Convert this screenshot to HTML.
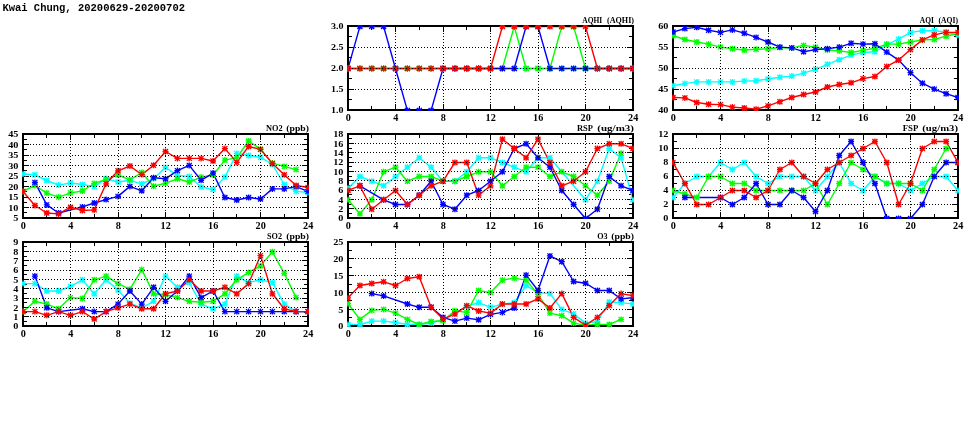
<!DOCTYPE html><html><head><meta charset="utf-8"><title>Kwai Chung</title><style>
html,body{margin:0;padding:0;background:#fff;width:975px;height:447px;overflow:hidden}
svg{display:block;will-change:transform}
.t1{font-family:"Liberation Mono",monospace;font-weight:bold;font-size:10.4px;fill:#000}
.yl{font-family:"Liberation Serif",serif;font-weight:bold;font-size:9.2px;text-anchor:end;fill:#000}
.xl{font-family:"Liberation Serif",serif;font-weight:bold;font-size:9.4px;text-anchor:middle;fill:#000}
.pt{font-family:"Liberation Serif",serif;font-weight:bold;font-size:9.2px;text-anchor:start;fill:#000}
.gd{stroke:#000;stroke-width:1;stroke-dasharray:1 2;fill:none}
.tk{stroke:#000;stroke-width:1;fill:none}
.fr{stroke:#000;stroke-width:2;fill:none}
.ln{stroke-width:1.4;fill:none;stroke-linejoin:round}
.mk{stroke-width:1.3;fill:none}
</style></head><body><svg width="975" height="447" viewBox="0 0 975 447">
<rect width="975" height="447" fill="#fff"/>
<text x="2.4" y="10.8" class="t1" transform="translate(0 10.8) scale(1 1.0) translate(0 -10.8)" textLength="182.6" lengthAdjust="spacingAndGlyphs">Kwai Chung, 20200629-20200702</text>
<path d="M348 110.5h6M633 110.5h-6M348 89.5h6M633 89.5h-6M348 68.5h6M633 68.5h-6M348 47.5h6M633 47.5h-6M348 26.5h6M633 26.5h-6M348 99.5h4M633 99.5h-4M348 78.5h4M633 78.5h-4M348 57.5h4M633 57.5h-4M348 36.5h4M633 36.5h-4M348.5 110v-6M348.5 26v6M371.5 110v-4M371.5 26v4M395.5 110v-6M395.5 26v6M419.5 110v-4M419.5 26v4M443.5 110v-6M443.5 26v6M466.5 110v-4M466.5 26v4M490.5 110v-6M490.5 26v6M514.5 110v-4M514.5 26v4M538.5 110v-6M538.5 26v6M561.5 110v-4M561.5 26v4M585.5 110v-6M585.5 26v6M609.5 110v-4M609.5 26v4M633.5 110v-6M633.5 26v6" class="tk"/>
<clipPath id="lAQHI"><rect x="349" y="27" width="283" height="82"/></clipPath>
<g clip-path="url(#lAQHI)"><polyline points="348.0,68.5 359.9,68.5 371.8,68.5 383.6,68.5 395.5,68.5 407.4,68.5 419.2,68.5 431.1,68.5 443.0,68.5 454.9,68.5 466.8,68.5 478.6,68.5 490.5,68.5 502.4,68.5 514.2,68.5 526.1,68.5 538.0,68.5 549.9,68.5 561.8,68.5 573.6,68.5 585.5,68.5 597.4,68.5 609.2,68.5 621.1,68.5 633.0,68.5" class="ln" stroke="#00ffff"/><polyline points="348.0,68.5 359.9,68.5 371.8,68.5 383.6,68.5 395.5,68.5 407.4,68.5 419.2,68.5 431.1,68.5 443.0,68.5 454.9,68.5 466.8,68.5 478.6,68.5 490.5,68.5 502.4,68.5 514.2,26.5 526.1,68.5 538.0,68.5 549.9,68.5 561.8,26.5 573.6,26.5 585.5,68.5 597.4,68.5 609.2,68.5 621.1,68.5 633.0,68.5" class="ln" stroke="#00ff00"/><polyline points="348.0,68.5 359.9,26.5 371.8,26.5 383.6,26.5 395.5,68.5 407.4,110.5 419.2,110.5 431.1,110.5 443.0,68.5 454.9,68.5 466.8,68.5 478.6,68.5 490.5,68.5 502.4,68.5 514.2,68.5 526.1,26.5 538.0,26.5 549.9,68.5 561.8,68.5 573.6,68.5 585.5,68.5 597.4,68.5 609.2,68.5 621.1,68.5 633.0,68.5" class="ln" stroke="#0000ff"/><polyline points="348.0,68.5 359.9,68.5 371.8,68.5 383.6,68.5 395.5,68.5 407.4,68.5 419.2,68.5 431.1,68.5 443.0,68.5 454.9,68.5 466.8,68.5 478.6,68.5 490.5,68.5 502.4,26.5 514.2,26.5 526.1,26.5 538.0,26.5 549.9,26.5 561.8,26.5 573.6,26.5 585.5,26.5 597.4,68.5 609.2,68.5 621.1,68.5 633.0,68.5" class="ln" stroke="#ff0000"/></g>
<rect x="348" y="26" width="285" height="84" class="fr"/>
<clipPath id="cAQHI"><rect x="347" y="25" width="287" height="86"/></clipPath>
<g clip-path="url(#cAQHI)"><path d="M345.5 66.0l5 5m0 -5l-5 5M348.0 65.5v6M345.0 68.5h6M357.4 66.0l5 5m0 -5l-5 5M359.9 65.5v6M356.9 68.5h6M369.2 66.0l5 5m0 -5l-5 5M371.8 65.5v6M368.8 68.5h6M381.1 66.0l5 5m0 -5l-5 5M383.6 65.5v6M380.6 68.5h6M393.0 66.0l5 5m0 -5l-5 5M395.5 65.5v6M392.5 68.5h6M404.9 66.0l5 5m0 -5l-5 5M407.4 65.5v6M404.4 68.5h6M416.8 66.0l5 5m0 -5l-5 5M419.2 65.5v6M416.2 68.5h6M428.6 66.0l5 5m0 -5l-5 5M431.1 65.5v6M428.1 68.5h6M440.5 66.0l5 5m0 -5l-5 5M443.0 65.5v6M440.0 68.5h6M452.4 66.0l5 5m0 -5l-5 5M454.9 65.5v6M451.9 68.5h6M464.2 66.0l5 5m0 -5l-5 5M466.8 65.5v6M463.8 68.5h6M476.1 66.0l5 5m0 -5l-5 5M478.6 65.5v6M475.6 68.5h6M488.0 66.0l5 5m0 -5l-5 5M490.5 65.5v6M487.5 68.5h6M499.9 66.0l5 5m0 -5l-5 5M502.4 65.5v6M499.4 68.5h6M511.8 66.0l5 5m0 -5l-5 5M514.2 65.5v6M511.2 68.5h6M523.6 66.0l5 5m0 -5l-5 5M526.1 65.5v6M523.1 68.5h6M535.5 66.0l5 5m0 -5l-5 5M538.0 65.5v6M535.0 68.5h6M547.4 66.0l5 5m0 -5l-5 5M549.9 65.5v6M546.9 68.5h6M559.2 66.0l5 5m0 -5l-5 5M561.8 65.5v6M558.8 68.5h6M571.1 66.0l5 5m0 -5l-5 5M573.6 65.5v6M570.6 68.5h6M583.0 66.0l5 5m0 -5l-5 5M585.5 65.5v6M582.5 68.5h6M594.9 66.0l5 5m0 -5l-5 5M597.4 65.5v6M594.4 68.5h6M606.8 66.0l5 5m0 -5l-5 5M609.2 65.5v6M606.2 68.5h6M618.6 66.0l5 5m0 -5l-5 5M621.1 65.5v6M618.1 68.5h6M630.5 66.0l5 5m0 -5l-5 5M633.0 65.5v6M630.0 68.5h6" class="mk" stroke="#00ffff"/><path d="M345.5 66.0l5 5m0 -5l-5 5M348.0 65.5v6M345.0 68.5h6M357.4 66.0l5 5m0 -5l-5 5M359.9 65.5v6M356.9 68.5h6M369.2 66.0l5 5m0 -5l-5 5M371.8 65.5v6M368.8 68.5h6M381.1 66.0l5 5m0 -5l-5 5M383.6 65.5v6M380.6 68.5h6M393.0 66.0l5 5m0 -5l-5 5M395.5 65.5v6M392.5 68.5h6M404.9 66.0l5 5m0 -5l-5 5M407.4 65.5v6M404.4 68.5h6M416.8 66.0l5 5m0 -5l-5 5M419.2 65.5v6M416.2 68.5h6M428.6 66.0l5 5m0 -5l-5 5M431.1 65.5v6M428.1 68.5h6M440.5 66.0l5 5m0 -5l-5 5M443.0 65.5v6M440.0 68.5h6M452.4 66.0l5 5m0 -5l-5 5M454.9 65.5v6M451.9 68.5h6M464.2 66.0l5 5m0 -5l-5 5M466.8 65.5v6M463.8 68.5h6M476.1 66.0l5 5m0 -5l-5 5M478.6 65.5v6M475.6 68.5h6M488.0 66.0l5 5m0 -5l-5 5M490.5 65.5v6M487.5 68.5h6M499.9 66.0l5 5m0 -5l-5 5M502.4 65.5v6M499.4 68.5h6M511.8 24.0l5 5m0 -5l-5 5M514.2 23.5v6M511.2 26.5h6M523.6 66.0l5 5m0 -5l-5 5M526.1 65.5v6M523.1 68.5h6M535.5 66.0l5 5m0 -5l-5 5M538.0 65.5v6M535.0 68.5h6M547.4 66.0l5 5m0 -5l-5 5M549.9 65.5v6M546.9 68.5h6M559.2 24.0l5 5m0 -5l-5 5M561.8 23.5v6M558.8 26.5h6M571.1 24.0l5 5m0 -5l-5 5M573.6 23.5v6M570.6 26.5h6M583.0 66.0l5 5m0 -5l-5 5M585.5 65.5v6M582.5 68.5h6M594.9 66.0l5 5m0 -5l-5 5M597.4 65.5v6M594.4 68.5h6M606.8 66.0l5 5m0 -5l-5 5M609.2 65.5v6M606.2 68.5h6M618.6 66.0l5 5m0 -5l-5 5M621.1 65.5v6M618.1 68.5h6M630.5 66.0l5 5m0 -5l-5 5M633.0 65.5v6M630.0 68.5h6" class="mk" stroke="#00ff00"/><path d="M345.5 66.0l5 5m0 -5l-5 5M348.0 65.5v6M345.0 68.5h6M357.4 24.0l5 5m0 -5l-5 5M359.9 23.5v6M356.9 26.5h6M369.2 24.0l5 5m0 -5l-5 5M371.8 23.5v6M368.8 26.5h6M381.1 24.0l5 5m0 -5l-5 5M383.6 23.5v6M380.6 26.5h6M393.0 66.0l5 5m0 -5l-5 5M395.5 65.5v6M392.5 68.5h6M404.9 108.0l5 5m0 -5l-5 5M407.4 107.5v6M404.4 110.5h6M416.8 108.0l5 5m0 -5l-5 5M419.2 107.5v6M416.2 110.5h6M428.6 108.0l5 5m0 -5l-5 5M431.1 107.5v6M428.1 110.5h6M440.5 66.0l5 5m0 -5l-5 5M443.0 65.5v6M440.0 68.5h6M452.4 66.0l5 5m0 -5l-5 5M454.9 65.5v6M451.9 68.5h6M464.2 66.0l5 5m0 -5l-5 5M466.8 65.5v6M463.8 68.5h6M476.1 66.0l5 5m0 -5l-5 5M478.6 65.5v6M475.6 68.5h6M488.0 66.0l5 5m0 -5l-5 5M490.5 65.5v6M487.5 68.5h6M499.9 66.0l5 5m0 -5l-5 5M502.4 65.5v6M499.4 68.5h6M511.8 66.0l5 5m0 -5l-5 5M514.2 65.5v6M511.2 68.5h6M523.6 24.0l5 5m0 -5l-5 5M526.1 23.5v6M523.1 26.5h6M535.5 24.0l5 5m0 -5l-5 5M538.0 23.5v6M535.0 26.5h6M547.4 66.0l5 5m0 -5l-5 5M549.9 65.5v6M546.9 68.5h6M559.2 66.0l5 5m0 -5l-5 5M561.8 65.5v6M558.8 68.5h6M571.1 66.0l5 5m0 -5l-5 5M573.6 65.5v6M570.6 68.5h6M583.0 66.0l5 5m0 -5l-5 5M585.5 65.5v6M582.5 68.5h6M594.9 66.0l5 5m0 -5l-5 5M597.4 65.5v6M594.4 68.5h6M606.8 66.0l5 5m0 -5l-5 5M609.2 65.5v6M606.2 68.5h6M618.6 66.0l5 5m0 -5l-5 5M621.1 65.5v6M618.1 68.5h6M630.5 66.0l5 5m0 -5l-5 5M633.0 65.5v6M630.0 68.5h6" class="mk" stroke="#0000ff"/><path d="M345.5 66.0l5 5m0 -5l-5 5M348.0 65.5v6M345.0 68.5h6M357.4 66.0l5 5m0 -5l-5 5M359.9 65.5v6M356.9 68.5h6M369.2 66.0l5 5m0 -5l-5 5M371.8 65.5v6M368.8 68.5h6M381.1 66.0l5 5m0 -5l-5 5M383.6 65.5v6M380.6 68.5h6M393.0 66.0l5 5m0 -5l-5 5M395.5 65.5v6M392.5 68.5h6M404.9 66.0l5 5m0 -5l-5 5M407.4 65.5v6M404.4 68.5h6M416.8 66.0l5 5m0 -5l-5 5M419.2 65.5v6M416.2 68.5h6M428.6 66.0l5 5m0 -5l-5 5M431.1 65.5v6M428.1 68.5h6M440.5 66.0l5 5m0 -5l-5 5M443.0 65.5v6M440.0 68.5h6M452.4 66.0l5 5m0 -5l-5 5M454.9 65.5v6M451.9 68.5h6M464.2 66.0l5 5m0 -5l-5 5M466.8 65.5v6M463.8 68.5h6M476.1 66.0l5 5m0 -5l-5 5M478.6 65.5v6M475.6 68.5h6M488.0 66.0l5 5m0 -5l-5 5M490.5 65.5v6M487.5 68.5h6M499.9 24.0l5 5m0 -5l-5 5M502.4 23.5v6M499.4 26.5h6M511.8 24.0l5 5m0 -5l-5 5M514.2 23.5v6M511.2 26.5h6M523.6 24.0l5 5m0 -5l-5 5M526.1 23.5v6M523.1 26.5h6M535.5 24.0l5 5m0 -5l-5 5M538.0 23.5v6M535.0 26.5h6M547.4 24.0l5 5m0 -5l-5 5M549.9 23.5v6M546.9 26.5h6M559.2 24.0l5 5m0 -5l-5 5M561.8 23.5v6M558.8 26.5h6M571.1 24.0l5 5m0 -5l-5 5M573.6 23.5v6M570.6 26.5h6M583.0 24.0l5 5m0 -5l-5 5M585.5 23.5v6M582.5 26.5h6M594.9 66.0l5 5m0 -5l-5 5M597.4 65.5v6M594.4 68.5h6M606.8 66.0l5 5m0 -5l-5 5M609.2 65.5v6M606.2 68.5h6M618.6 66.0l5 5m0 -5l-5 5M621.1 65.5v6M618.1 68.5h6M630.5 66.0l5 5m0 -5l-5 5M633.0 65.5v6M630.0 68.5h6" class="mk" stroke="#ff0000"/></g>
<g><line x1="349" y1="89.5" x2="632" y2="89.5" class="gd"/><line x1="349" y1="68.5" x2="632" y2="68.5" class="gd"/><line x1="349" y1="47.5" x2="632" y2="47.5" class="gd"/><line x1="395.5" y1="27" x2="395.5" y2="109" class="gd"/><line x1="443.5" y1="27" x2="443.5" y2="109" class="gd"/><line x1="490.5" y1="27" x2="490.5" y2="109" class="gd"/><line x1="538.5" y1="27" x2="538.5" y2="109" class="gd"/><line x1="585.5" y1="27" x2="585.5" y2="109" class="gd"/><text x="343.4" y="113.3" class="yl" textLength="12.5" lengthAdjust="spacingAndGlyphs">1.0</text><text x="343.4" y="92.3" class="yl" textLength="12.5" lengthAdjust="spacingAndGlyphs">1.5</text><text x="343.4" y="71.3" class="yl" textLength="12.5" lengthAdjust="spacingAndGlyphs">2.0</text><text x="343.4" y="50.3" class="yl" textLength="12.5" lengthAdjust="spacingAndGlyphs">2.5</text><text x="343.4" y="29.3" class="yl" textLength="12.5" lengthAdjust="spacingAndGlyphs">3.0</text><text x="348.2" y="121.2" class="xl" textLength="5.1" lengthAdjust="spacingAndGlyphs">0</text><text x="395.7" y="121.2" class="xl" textLength="5.1" lengthAdjust="spacingAndGlyphs">4</text><text x="443.2" y="121.2" class="xl" textLength="5.1" lengthAdjust="spacingAndGlyphs">8</text><text x="490.7" y="121.2" class="xl" textLength="10.2" lengthAdjust="spacingAndGlyphs">12</text><text x="538.2" y="121.2" class="xl" textLength="10.2" lengthAdjust="spacingAndGlyphs">16</text><text x="585.7" y="121.2" class="xl" textLength="10.2" lengthAdjust="spacingAndGlyphs">20</text><text x="633.2" y="121.2" class="xl" textLength="10.2" lengthAdjust="spacingAndGlyphs">24</text><text x="582.3" y="22.7" class="pt" textLength="20.0" lengthAdjust="spacingAndGlyphs">AQHI</text><text x="607.0" y="22.7" class="pt" textLength="27.0" lengthAdjust="spacingAndGlyphs">(AQHI)</text></g>
<path d="M673 110.5h6M958 110.5h-6M673 89.5h6M958 89.5h-6M673 68.5h6M958 68.5h-6M673 47.5h6M958 47.5h-6M673 26.5h6M958 26.5h-6M673 99.5h4M958 99.5h-4M673 78.5h4M958 78.5h-4M673 57.5h4M958 57.5h-4M673 36.5h4M958 36.5h-4M673.5 110v-6M673.5 26v6M696.5 110v-4M696.5 26v4M720.5 110v-6M720.5 26v6M744.5 110v-4M744.5 26v4M768.5 110v-6M768.5 26v6M791.5 110v-4M791.5 26v4M815.5 110v-6M815.5 26v6M839.5 110v-4M839.5 26v4M863.5 110v-6M863.5 26v6M886.5 110v-4M886.5 26v4M910.5 110v-6M910.5 26v6M934.5 110v-4M934.5 26v4M958.5 110v-6M958.5 26v6" class="tk"/>
<clipPath id="lAQI"><rect x="674" y="27" width="283" height="82"/></clipPath>
<g clip-path="url(#lAQI)"><polyline points="673.0,85.7 684.9,83.6 696.8,81.9 708.6,81.9 720.5,81.9 732.4,81.9 744.2,81.1 756.1,80.7 768.0,79.0 779.9,77.3 791.8,76.1 803.6,73.1 815.5,69.3 827.4,64.3 839.2,59.7 851.1,55.1 863.0,52.5 874.9,51.7 886.8,44.6 898.6,39.1 910.5,32.4 922.4,30.7 934.2,30.7 946.1,32.0 958.0,35.3" class="ln" stroke="#00ffff"/><polyline points="673.0,35.7 684.9,39.5 696.8,42.0 708.6,44.1 720.5,47.1 732.4,48.8 744.2,50.0 756.1,49.2 768.0,48.8 779.9,47.5 791.8,47.9 803.6,45.4 815.5,47.1 827.4,50.0 839.2,50.9 851.1,52.5 863.0,50.4 874.9,48.3 886.8,44.1 898.6,44.1 910.5,42.0 922.4,39.9 934.2,39.5 946.1,36.2 958.0,33.2" class="ln" stroke="#00ff00"/><polyline points="673.0,32.0 684.9,28.6 696.8,27.3 708.6,30.3 720.5,32.4 732.4,29.9 744.2,33.2 756.1,37.4 768.0,42.0 779.9,47.1 791.8,47.9 803.6,51.7 815.5,49.6 827.4,48.8 839.2,47.1 851.1,43.3 863.0,44.1 874.9,43.7 886.8,52.1 898.6,60.1 910.5,72.7 922.4,83.2 934.2,89.1 946.1,93.7 958.0,97.5" class="ln" stroke="#0000ff"/><polyline points="673.0,97.5 684.9,97.9 696.8,102.5 708.6,104.2 720.5,104.6 732.4,107.1 744.2,108.0 756.1,109.2 768.0,105.9 779.9,101.7 791.8,97.5 803.6,94.5 815.5,92.0 827.4,87.0 839.2,84.5 851.1,82.8 863.0,78.6 874.9,76.5 886.8,66.4 898.6,60.1 910.5,49.6 922.4,39.9 934.2,34.9 946.1,32.4 958.0,32.4" class="ln" stroke="#ff0000"/></g>
<rect x="673" y="26" width="285" height="84" class="fr"/>
<clipPath id="cAQI"><rect x="672" y="25" width="287" height="86"/></clipPath>
<g clip-path="url(#cAQI)"><path d="M670.5 83.2l5 5m0 -5l-5 5M673.0 82.7v6M670.0 85.7h6M682.4 81.1l5 5m0 -5l-5 5M684.9 80.6v6M681.9 83.6h6M694.2 79.4l5 5m0 -5l-5 5M696.8 78.9v6M693.8 81.9h6M706.1 79.4l5 5m0 -5l-5 5M708.6 78.9v6M705.6 81.9h6M718.0 79.4l5 5m0 -5l-5 5M720.5 78.9v6M717.5 81.9h6M729.9 79.4l5 5m0 -5l-5 5M732.4 78.9v6M729.4 81.9h6M741.8 78.6l5 5m0 -5l-5 5M744.2 78.1v6M741.2 81.1h6M753.6 78.2l5 5m0 -5l-5 5M756.1 77.7v6M753.1 80.7h6M765.5 76.5l5 5m0 -5l-5 5M768.0 76.0v6M765.0 79.0h6M777.4 74.8l5 5m0 -5l-5 5M779.9 74.3v6M776.9 77.3h6M789.2 73.6l5 5m0 -5l-5 5M791.8 73.1v6M788.8 76.1h6M801.1 70.6l5 5m0 -5l-5 5M803.6 70.1v6M800.6 73.1h6M813.0 66.8l5 5m0 -5l-5 5M815.5 66.3v6M812.5 69.3h6M824.9 61.8l5 5m0 -5l-5 5M827.4 61.3v6M824.4 64.3h6M836.8 57.2l5 5m0 -5l-5 5M839.2 56.7v6M836.2 59.7h6M848.6 52.6l5 5m0 -5l-5 5M851.1 52.1v6M848.1 55.1h6M860.5 50.0l5 5m0 -5l-5 5M863.0 49.5v6M860.0 52.5h6M872.4 49.2l5 5m0 -5l-5 5M874.9 48.7v6M871.9 51.7h6M884.2 42.1l5 5m0 -5l-5 5M886.8 41.6v6M883.8 44.6h6M896.1 36.6l5 5m0 -5l-5 5M898.6 36.1v6M895.6 39.1h6M908.0 29.9l5 5m0 -5l-5 5M910.5 29.4v6M907.5 32.4h6M919.9 28.2l5 5m0 -5l-5 5M922.4 27.7v6M919.4 30.7h6M931.8 28.2l5 5m0 -5l-5 5M934.2 27.7v6M931.2 30.7h6M943.6 29.5l5 5m0 -5l-5 5M946.1 29.0v6M943.1 32.0h6M955.5 32.8l5 5m0 -5l-5 5M958.0 32.3v6M955.0 35.3h6" class="mk" stroke="#00ffff"/><path d="M670.5 33.2l5 5m0 -5l-5 5M673.0 32.7v6M670.0 35.7h6M682.4 37.0l5 5m0 -5l-5 5M684.9 36.5v6M681.9 39.5h6M694.2 39.5l5 5m0 -5l-5 5M696.8 39.0v6M693.8 42.0h6M706.1 41.6l5 5m0 -5l-5 5M708.6 41.1v6M705.6 44.1h6M718.0 44.6l5 5m0 -5l-5 5M720.5 44.1v6M717.5 47.1h6M729.9 46.3l5 5m0 -5l-5 5M732.4 45.8v6M729.4 48.8h6M741.8 47.5l5 5m0 -5l-5 5M744.2 47.0v6M741.2 50.0h6M753.6 46.7l5 5m0 -5l-5 5M756.1 46.2v6M753.1 49.2h6M765.5 46.3l5 5m0 -5l-5 5M768.0 45.8v6M765.0 48.8h6M777.4 45.0l5 5m0 -5l-5 5M779.9 44.5v6M776.9 47.5h6M789.2 45.4l5 5m0 -5l-5 5M791.8 44.9v6M788.8 47.9h6M801.1 42.9l5 5m0 -5l-5 5M803.6 42.4v6M800.6 45.4h6M813.0 44.6l5 5m0 -5l-5 5M815.5 44.1v6M812.5 47.1h6M824.9 47.5l5 5m0 -5l-5 5M827.4 47.0v6M824.4 50.0h6M836.8 48.4l5 5m0 -5l-5 5M839.2 47.9v6M836.2 50.9h6M848.6 50.0l5 5m0 -5l-5 5M851.1 49.5v6M848.1 52.5h6M860.5 47.9l5 5m0 -5l-5 5M863.0 47.4v6M860.0 50.4h6M872.4 45.8l5 5m0 -5l-5 5M874.9 45.3v6M871.9 48.3h6M884.2 41.6l5 5m0 -5l-5 5M886.8 41.1v6M883.8 44.1h6M896.1 41.6l5 5m0 -5l-5 5M898.6 41.1v6M895.6 44.1h6M908.0 39.5l5 5m0 -5l-5 5M910.5 39.0v6M907.5 42.0h6M919.9 37.4l5 5m0 -5l-5 5M922.4 36.9v6M919.4 39.9h6M931.8 37.0l5 5m0 -5l-5 5M934.2 36.5v6M931.2 39.5h6M943.6 33.7l5 5m0 -5l-5 5M946.1 33.2v6M943.1 36.2h6M955.5 30.7l5 5m0 -5l-5 5M958.0 30.2v6M955.0 33.2h6" class="mk" stroke="#00ff00"/><path d="M670.5 29.5l5 5m0 -5l-5 5M673.0 29.0v6M670.0 32.0h6M682.4 26.1l5 5m0 -5l-5 5M684.9 25.6v6M681.9 28.6h6M694.2 24.8l5 5m0 -5l-5 5M696.8 24.3v6M693.8 27.3h6M706.1 27.8l5 5m0 -5l-5 5M708.6 27.3v6M705.6 30.3h6M718.0 29.9l5 5m0 -5l-5 5M720.5 29.4v6M717.5 32.4h6M729.9 27.4l5 5m0 -5l-5 5M732.4 26.9v6M729.4 29.9h6M741.8 30.7l5 5m0 -5l-5 5M744.2 30.2v6M741.2 33.2h6M753.6 34.9l5 5m0 -5l-5 5M756.1 34.4v6M753.1 37.4h6M765.5 39.5l5 5m0 -5l-5 5M768.0 39.0v6M765.0 42.0h6M777.4 44.6l5 5m0 -5l-5 5M779.9 44.1v6M776.9 47.1h6M789.2 45.4l5 5m0 -5l-5 5M791.8 44.9v6M788.8 47.9h6M801.1 49.2l5 5m0 -5l-5 5M803.6 48.7v6M800.6 51.7h6M813.0 47.1l5 5m0 -5l-5 5M815.5 46.6v6M812.5 49.6h6M824.9 46.3l5 5m0 -5l-5 5M827.4 45.8v6M824.4 48.8h6M836.8 44.6l5 5m0 -5l-5 5M839.2 44.1v6M836.2 47.1h6M848.6 40.8l5 5m0 -5l-5 5M851.1 40.3v6M848.1 43.3h6M860.5 41.6l5 5m0 -5l-5 5M863.0 41.1v6M860.0 44.1h6M872.4 41.2l5 5m0 -5l-5 5M874.9 40.7v6M871.9 43.7h6M884.2 49.6l5 5m0 -5l-5 5M886.8 49.1v6M883.8 52.1h6M896.1 57.6l5 5m0 -5l-5 5M898.6 57.1v6M895.6 60.1h6M908.0 70.2l5 5m0 -5l-5 5M910.5 69.7v6M907.5 72.7h6M919.9 80.7l5 5m0 -5l-5 5M922.4 80.2v6M919.4 83.2h6M931.8 86.6l5 5m0 -5l-5 5M934.2 86.1v6M931.2 89.1h6M943.6 91.2l5 5m0 -5l-5 5M946.1 90.7v6M943.1 93.7h6M955.5 95.0l5 5m0 -5l-5 5M958.0 94.5v6M955.0 97.5h6" class="mk" stroke="#0000ff"/><path d="M670.5 95.0l5 5m0 -5l-5 5M673.0 94.5v6M670.0 97.5h6M682.4 95.4l5 5m0 -5l-5 5M684.9 94.9v6M681.9 97.9h6M694.2 100.0l5 5m0 -5l-5 5M696.8 99.5v6M693.8 102.5h6M706.1 101.7l5 5m0 -5l-5 5M708.6 101.2v6M705.6 104.2h6M718.0 102.1l5 5m0 -5l-5 5M720.5 101.6v6M717.5 104.6h6M729.9 104.6l5 5m0 -5l-5 5M732.4 104.1v6M729.4 107.1h6M741.8 105.5l5 5m0 -5l-5 5M744.2 105.0v6M741.2 108.0h6M753.6 106.7l5 5m0 -5l-5 5M756.1 106.2v6M753.1 109.2h6M765.5 103.4l5 5m0 -5l-5 5M768.0 102.9v6M765.0 105.9h6M777.4 99.2l5 5m0 -5l-5 5M779.9 98.7v6M776.9 101.7h6M789.2 95.0l5 5m0 -5l-5 5M791.8 94.5v6M788.8 97.5h6M801.1 92.0l5 5m0 -5l-5 5M803.6 91.5v6M800.6 94.5h6M813.0 89.5l5 5m0 -5l-5 5M815.5 89.0v6M812.5 92.0h6M824.9 84.5l5 5m0 -5l-5 5M827.4 84.0v6M824.4 87.0h6M836.8 82.0l5 5m0 -5l-5 5M839.2 81.5v6M836.2 84.5h6M848.6 80.3l5 5m0 -5l-5 5M851.1 79.8v6M848.1 82.8h6M860.5 76.1l5 5m0 -5l-5 5M863.0 75.6v6M860.0 78.6h6M872.4 74.0l5 5m0 -5l-5 5M874.9 73.5v6M871.9 76.5h6M884.2 63.9l5 5m0 -5l-5 5M886.8 63.4v6M883.8 66.4h6M896.1 57.6l5 5m0 -5l-5 5M898.6 57.1v6M895.6 60.1h6M908.0 47.1l5 5m0 -5l-5 5M910.5 46.6v6M907.5 49.6h6M919.9 37.4l5 5m0 -5l-5 5M922.4 36.9v6M919.4 39.9h6M931.8 32.4l5 5m0 -5l-5 5M934.2 31.9v6M931.2 34.9h6M943.6 29.9l5 5m0 -5l-5 5M946.1 29.4v6M943.1 32.4h6M955.5 29.9l5 5m0 -5l-5 5M958.0 29.4v6M955.0 32.4h6" class="mk" stroke="#ff0000"/></g>
<g><line x1="674" y1="89.5" x2="957" y2="89.5" class="gd"/><line x1="674" y1="68.5" x2="957" y2="68.5" class="gd"/><line x1="674" y1="47.5" x2="957" y2="47.5" class="gd"/><line x1="720.5" y1="27" x2="720.5" y2="109" class="gd"/><line x1="768.5" y1="27" x2="768.5" y2="109" class="gd"/><line x1="815.5" y1="27" x2="815.5" y2="109" class="gd"/><line x1="863.5" y1="27" x2="863.5" y2="109" class="gd"/><line x1="910.5" y1="27" x2="910.5" y2="109" class="gd"/><text x="668.4" y="113.3" class="yl" textLength="10.2" lengthAdjust="spacingAndGlyphs">40</text><text x="668.4" y="92.3" class="yl" textLength="10.2" lengthAdjust="spacingAndGlyphs">45</text><text x="668.4" y="71.3" class="yl" textLength="10.2" lengthAdjust="spacingAndGlyphs">50</text><text x="668.4" y="50.3" class="yl" textLength="10.2" lengthAdjust="spacingAndGlyphs">55</text><text x="668.4" y="29.3" class="yl" textLength="10.2" lengthAdjust="spacingAndGlyphs">60</text><text x="673.2" y="121.2" class="xl" textLength="5.1" lengthAdjust="spacingAndGlyphs">0</text><text x="720.7" y="121.2" class="xl" textLength="5.1" lengthAdjust="spacingAndGlyphs">4</text><text x="768.2" y="121.2" class="xl" textLength="5.1" lengthAdjust="spacingAndGlyphs">8</text><text x="815.7" y="121.2" class="xl" textLength="10.2" lengthAdjust="spacingAndGlyphs">12</text><text x="863.2" y="121.2" class="xl" textLength="10.2" lengthAdjust="spacingAndGlyphs">16</text><text x="910.7" y="121.2" class="xl" textLength="10.2" lengthAdjust="spacingAndGlyphs">20</text><text x="958.2" y="121.2" class="xl" textLength="10.2" lengthAdjust="spacingAndGlyphs">24</text><text x="919.8" y="22.7" class="pt" textLength="14.1" lengthAdjust="spacingAndGlyphs">AQI</text><text x="938.5" y="22.7" class="pt" textLength="19.6" lengthAdjust="spacingAndGlyphs">(AQI)</text></g>
<path d="M23 218.5h6M308 218.5h-6M23 207.5h6M308 207.5h-6M23 197.5h6M308 197.5h-6M23 186.5h6M308 186.5h-6M23 176.5h6M308 176.5h-6M23 165.5h6M308 165.5h-6M23 155.5h6M308 155.5h-6M23 144.5h6M308 144.5h-6M23 134.5h6M308 134.5h-6M23 212.5h4M308 212.5h-4M23 202.5h4M308 202.5h-4M23 191.5h4M308 191.5h-4M23 181.5h4M308 181.5h-4M23 170.5h4M308 170.5h-4M23 160.5h4M308 160.5h-4M23 149.5h4M308 149.5h-4M23 139.5h4M308 139.5h-4M23.5 218v-6M23.5 134v6M46.5 218v-4M46.5 134v4M70.5 218v-6M70.5 134v6M94.5 218v-4M94.5 134v4M118.5 218v-6M118.5 134v6M141.5 218v-4M141.5 134v4M165.5 218v-6M165.5 134v6M189.5 218v-4M189.5 134v4M213.5 218v-6M213.5 134v6M236.5 218v-4M236.5 134v4M260.5 218v-6M260.5 134v6M284.5 218v-4M284.5 134v4M308.5 218v-6M308.5 134v6" class="tk"/>
<clipPath id="lNO2"><rect x="24" y="135" width="283" height="82"/></clipPath>
<g clip-path="url(#lNO2)"><polyline points="23.0,174.0 34.9,174.8 46.8,180.5 58.6,185.1 70.5,183.0 82.4,184.5 94.2,186.6 106.1,178.6 118.0,182.0 129.9,180.3 141.8,183.8 153.6,178.6 165.5,167.5 177.4,175.4 189.2,176.5 201.1,187.0 213.0,189.5 224.9,177.1 236.8,153.4 248.6,155.5 260.5,157.2 272.4,164.5 284.2,184.5 296.1,191.4 308.0,192.5" class="ln" stroke="#00ffff"/><polyline points="23.0,191.4 34.9,185.5 46.8,193.1 58.6,197.1 70.5,192.9 82.4,191.0 94.2,183.4 106.1,179.4 118.0,175.0 129.9,179.9 141.8,172.5 153.6,186.2 165.5,183.2 177.4,178.8 189.2,182.0 201.1,177.1 213.0,175.0 224.9,160.1 236.8,157.6 248.6,141.0 260.5,149.2 272.4,163.1 284.2,166.4 296.1,169.6" class="ln" stroke="#00ff00"/><polyline points="34.9,182.4 46.8,204.9 58.6,213.0 82.4,206.9 94.2,203.0 106.1,199.6 118.0,196.4 129.9,186.4 141.8,190.8 153.6,177.8 165.5,178.8 177.4,170.6 189.2,165.4 201.1,180.3 213.0,173.1 224.9,197.5 236.8,200.0 248.6,197.5 260.5,199.0 272.4,188.9 284.2,188.9 296.1,186.6 308.0,191.4" class="ln" stroke="#0000ff"/><polyline points="23.0,191.4 34.9,205.5 46.8,213.0 58.6,213.9 70.5,207.2 82.4,210.5 94.2,209.9 106.1,183.8 118.0,170.8 129.9,166.0 141.8,174.6 153.6,165.2 165.5,151.5 177.4,158.4 189.2,158.4 201.1,158.4 213.0,161.0 224.9,148.6 236.8,162.4 248.6,146.5 260.5,149.4 272.4,163.5 284.2,174.8 296.1,185.5 308.0,187.4" class="ln" stroke="#ff0000"/></g>
<rect x="23" y="134" width="285" height="84" class="fr"/>
<clipPath id="cNO2"><rect x="22" y="133" width="287" height="86"/></clipPath>
<g clip-path="url(#cNO2)"><path d="M20.5 171.5l5 5m0 -5l-5 5M23.0 171.0v6M20.0 174.0h6M32.4 172.3l5 5m0 -5l-5 5M34.9 171.8v6M31.9 174.8h6M44.2 178.0l5 5m0 -5l-5 5M46.8 177.5v6M43.8 180.5h6M56.1 182.6l5 5m0 -5l-5 5M58.6 182.1v6M55.6 185.1h6M68.0 180.5l5 5m0 -5l-5 5M70.5 180.0v6M67.5 183.0h6M79.9 182.0l5 5m0 -5l-5 5M82.4 181.5v6M79.4 184.5h6M91.8 184.1l5 5m0 -5l-5 5M94.2 183.6v6M91.2 186.6h6M103.6 176.1l5 5m0 -5l-5 5M106.1 175.6v6M103.1 178.6h6M115.5 179.5l5 5m0 -5l-5 5M118.0 179.0v6M115.0 182.0h6M127.4 177.8l5 5m0 -5l-5 5M129.9 177.3v6M126.9 180.3h6M139.2 181.3l5 5m0 -5l-5 5M141.8 180.8v6M138.8 183.8h6M151.1 176.1l5 5m0 -5l-5 5M153.6 175.6v6M150.6 178.6h6M163.0 165.0l5 5m0 -5l-5 5M165.5 164.5v6M162.5 167.5h6M174.9 172.9l5 5m0 -5l-5 5M177.4 172.4v6M174.4 175.4h6M186.8 174.0l5 5m0 -5l-5 5M189.2 173.5v6M186.2 176.5h6M198.6 184.5l5 5m0 -5l-5 5M201.1 184.0v6M198.1 187.0h6M210.5 187.0l5 5m0 -5l-5 5M213.0 186.5v6M210.0 189.5h6M222.4 174.6l5 5m0 -5l-5 5M224.9 174.1v6M221.9 177.1h6M234.2 150.9l5 5m0 -5l-5 5M236.8 150.4v6M233.8 153.4h6M246.1 153.0l5 5m0 -5l-5 5M248.6 152.5v6M245.6 155.5h6M258.0 154.7l5 5m0 -5l-5 5M260.5 154.2v6M257.5 157.2h6M269.9 162.0l5 5m0 -5l-5 5M272.4 161.5v6M269.4 164.5h6M281.8 182.0l5 5m0 -5l-5 5M284.2 181.5v6M281.2 184.5h6M293.6 188.9l5 5m0 -5l-5 5M296.1 188.4v6M293.1 191.4h6M305.5 190.0l5 5m0 -5l-5 5M308.0 189.5v6M305.0 192.5h6" class="mk" stroke="#00ffff"/><path d="M20.5 188.9l5 5m0 -5l-5 5M23.0 188.4v6M20.0 191.4h6M32.4 183.0l5 5m0 -5l-5 5M34.9 182.5v6M31.9 185.5h6M44.2 190.6l5 5m0 -5l-5 5M46.8 190.1v6M43.8 193.1h6M56.1 194.6l5 5m0 -5l-5 5M58.6 194.1v6M55.6 197.1h6M68.0 190.4l5 5m0 -5l-5 5M70.5 189.9v6M67.5 192.9h6M79.9 188.5l5 5m0 -5l-5 5M82.4 188.0v6M79.4 191.0h6M91.8 180.9l5 5m0 -5l-5 5M94.2 180.4v6M91.2 183.4h6M103.6 176.9l5 5m0 -5l-5 5M106.1 176.4v6M103.1 179.4h6M115.5 172.5l5 5m0 -5l-5 5M118.0 172.0v6M115.0 175.0h6M127.4 177.4l5 5m0 -5l-5 5M129.9 176.9v6M126.9 179.9h6M139.2 170.0l5 5m0 -5l-5 5M141.8 169.5v6M138.8 172.5h6M151.1 183.7l5 5m0 -5l-5 5M153.6 183.2v6M150.6 186.2h6M163.0 180.7l5 5m0 -5l-5 5M165.5 180.2v6M162.5 183.2h6M174.9 176.3l5 5m0 -5l-5 5M177.4 175.8v6M174.4 178.8h6M186.8 179.5l5 5m0 -5l-5 5M189.2 179.0v6M186.2 182.0h6M198.6 174.6l5 5m0 -5l-5 5M201.1 174.1v6M198.1 177.1h6M210.5 172.5l5 5m0 -5l-5 5M213.0 172.0v6M210.0 175.0h6M222.4 157.6l5 5m0 -5l-5 5M224.9 157.1v6M221.9 160.1h6M234.2 155.1l5 5m0 -5l-5 5M236.8 154.6v6M233.8 157.6h6M246.1 138.5l5 5m0 -5l-5 5M248.6 138.0v6M245.6 141.0h6M258.0 146.7l5 5m0 -5l-5 5M260.5 146.2v6M257.5 149.2h6M269.9 160.6l5 5m0 -5l-5 5M272.4 160.1v6M269.4 163.1h6M281.8 163.9l5 5m0 -5l-5 5M284.2 163.4v6M281.2 166.4h6M293.6 167.1l5 5m0 -5l-5 5M296.1 166.6v6M293.1 169.6h6" class="mk" stroke="#00ff00"/><path d="M32.4 179.9l5 5m0 -5l-5 5M34.9 179.4v6M31.9 182.4h6M44.2 202.4l5 5m0 -5l-5 5M46.8 201.9v6M43.8 204.9h6M56.1 210.5l5 5m0 -5l-5 5M58.6 210.0v6M55.6 213.0h6M79.9 204.4l5 5m0 -5l-5 5M82.4 203.9v6M79.4 206.9h6M91.8 200.5l5 5m0 -5l-5 5M94.2 200.0v6M91.2 203.0h6M103.6 197.1l5 5m0 -5l-5 5M106.1 196.6v6M103.1 199.6h6M115.5 193.9l5 5m0 -5l-5 5M118.0 193.4v6M115.0 196.4h6M127.4 183.9l5 5m0 -5l-5 5M129.9 183.4v6M126.9 186.4h6M139.2 188.3l5 5m0 -5l-5 5M141.8 187.8v6M138.8 190.8h6M151.1 175.3l5 5m0 -5l-5 5M153.6 174.8v6M150.6 177.8h6M163.0 176.3l5 5m0 -5l-5 5M165.5 175.8v6M162.5 178.8h6M174.9 168.1l5 5m0 -5l-5 5M177.4 167.6v6M174.4 170.6h6M186.8 162.9l5 5m0 -5l-5 5M189.2 162.4v6M186.2 165.4h6M198.6 177.8l5 5m0 -5l-5 5M201.1 177.3v6M198.1 180.3h6M210.5 170.6l5 5m0 -5l-5 5M213.0 170.1v6M210.0 173.1h6M222.4 195.0l5 5m0 -5l-5 5M224.9 194.5v6M221.9 197.5h6M234.2 197.5l5 5m0 -5l-5 5M236.8 197.0v6M233.8 200.0h6M246.1 195.0l5 5m0 -5l-5 5M248.6 194.5v6M245.6 197.5h6M258.0 196.5l5 5m0 -5l-5 5M260.5 196.0v6M257.5 199.0h6M269.9 186.4l5 5m0 -5l-5 5M272.4 185.9v6M269.4 188.9h6M281.8 186.4l5 5m0 -5l-5 5M284.2 185.9v6M281.2 188.9h6M293.6 184.1l5 5m0 -5l-5 5M296.1 183.6v6M293.1 186.6h6M305.5 188.9l5 5m0 -5l-5 5M308.0 188.4v6M305.0 191.4h6" class="mk" stroke="#0000ff"/><path d="M20.5 188.9l5 5m0 -5l-5 5M23.0 188.4v6M20.0 191.4h6M32.4 203.0l5 5m0 -5l-5 5M34.9 202.5v6M31.9 205.5h6M44.2 210.5l5 5m0 -5l-5 5M46.8 210.0v6M43.8 213.0h6M56.1 211.4l5 5m0 -5l-5 5M58.6 210.9v6M55.6 213.9h6M68.0 204.7l5 5m0 -5l-5 5M70.5 204.2v6M67.5 207.2h6M79.9 208.0l5 5m0 -5l-5 5M82.4 207.5v6M79.4 210.5h6M91.8 207.4l5 5m0 -5l-5 5M94.2 206.9v6M91.2 209.9h6M103.6 181.3l5 5m0 -5l-5 5M106.1 180.8v6M103.1 183.8h6M115.5 168.3l5 5m0 -5l-5 5M118.0 167.8v6M115.0 170.8h6M127.4 163.5l5 5m0 -5l-5 5M129.9 163.0v6M126.9 166.0h6M139.2 172.1l5 5m0 -5l-5 5M141.8 171.6v6M138.8 174.6h6M151.1 162.7l5 5m0 -5l-5 5M153.6 162.2v6M150.6 165.2h6M163.0 149.0l5 5m0 -5l-5 5M165.5 148.5v6M162.5 151.5h6M174.9 155.9l5 5m0 -5l-5 5M177.4 155.4v6M174.4 158.4h6M186.8 155.9l5 5m0 -5l-5 5M189.2 155.4v6M186.2 158.4h6M198.6 155.9l5 5m0 -5l-5 5M201.1 155.4v6M198.1 158.4h6M210.5 158.5l5 5m0 -5l-5 5M213.0 158.0v6M210.0 161.0h6M222.4 146.1l5 5m0 -5l-5 5M224.9 145.6v6M221.9 148.6h6M234.2 159.9l5 5m0 -5l-5 5M236.8 159.4v6M233.8 162.4h6M246.1 144.0l5 5m0 -5l-5 5M248.6 143.5v6M245.6 146.5h6M258.0 146.9l5 5m0 -5l-5 5M260.5 146.4v6M257.5 149.4h6M269.9 161.0l5 5m0 -5l-5 5M272.4 160.5v6M269.4 163.5h6M281.8 172.3l5 5m0 -5l-5 5M284.2 171.8v6M281.2 174.8h6M293.6 183.0l5 5m0 -5l-5 5M296.1 182.5v6M293.1 185.5h6M305.5 184.9l5 5m0 -5l-5 5M308.0 184.4v6M305.0 187.4h6" class="mk" stroke="#ff0000"/></g>
<g><line x1="24" y1="207.5" x2="307" y2="207.5" class="gd"/><line x1="24" y1="197.5" x2="307" y2="197.5" class="gd"/><line x1="24" y1="186.5" x2="307" y2="186.5" class="gd"/><line x1="24" y1="176.5" x2="307" y2="176.5" class="gd"/><line x1="24" y1="165.5" x2="307" y2="165.5" class="gd"/><line x1="24" y1="155.5" x2="307" y2="155.5" class="gd"/><line x1="24" y1="144.5" x2="307" y2="144.5" class="gd"/><line x1="70.5" y1="135" x2="70.5" y2="217" class="gd"/><line x1="118.5" y1="135" x2="118.5" y2="217" class="gd"/><line x1="165.5" y1="135" x2="165.5" y2="217" class="gd"/><line x1="213.5" y1="135" x2="213.5" y2="217" class="gd"/><line x1="260.5" y1="135" x2="260.5" y2="217" class="gd"/><text x="18.4" y="221.3" class="yl" textLength="5.1" lengthAdjust="spacingAndGlyphs">5</text><text x="18.4" y="210.8" class="yl" textLength="10.2" lengthAdjust="spacingAndGlyphs">10</text><text x="18.4" y="200.3" class="yl" textLength="10.2" lengthAdjust="spacingAndGlyphs">15</text><text x="18.4" y="189.8" class="yl" textLength="10.2" lengthAdjust="spacingAndGlyphs">20</text><text x="18.4" y="179.3" class="yl" textLength="10.2" lengthAdjust="spacingAndGlyphs">25</text><text x="18.4" y="168.8" class="yl" textLength="10.2" lengthAdjust="spacingAndGlyphs">30</text><text x="18.4" y="158.3" class="yl" textLength="10.2" lengthAdjust="spacingAndGlyphs">35</text><text x="18.4" y="147.8" class="yl" textLength="10.2" lengthAdjust="spacingAndGlyphs">40</text><text x="18.4" y="137.3" class="yl" textLength="10.2" lengthAdjust="spacingAndGlyphs">45</text><text x="23.2" y="229.2" class="xl" textLength="5.1" lengthAdjust="spacingAndGlyphs">0</text><text x="70.7" y="229.2" class="xl" textLength="5.1" lengthAdjust="spacingAndGlyphs">4</text><text x="118.2" y="229.2" class="xl" textLength="5.1" lengthAdjust="spacingAndGlyphs">8</text><text x="165.7" y="229.2" class="xl" textLength="10.2" lengthAdjust="spacingAndGlyphs">12</text><text x="213.2" y="229.2" class="xl" textLength="10.2" lengthAdjust="spacingAndGlyphs">16</text><text x="260.7" y="229.2" class="xl" textLength="10.2" lengthAdjust="spacingAndGlyphs">20</text><text x="308.2" y="229.2" class="xl" textLength="10.2" lengthAdjust="spacingAndGlyphs">24</text><text x="266.1" y="130.7" class="pt" textLength="16.6" lengthAdjust="spacingAndGlyphs">NO2</text><text x="286.3" y="130.7" class="pt" textLength="22.6" lengthAdjust="spacingAndGlyphs">(ppb)</text></g>
<path d="M348 218.5h6M633 218.5h-6M348 208.5h6M633 208.5h-6M348 199.5h6M633 199.5h-6M348 190.5h6M633 190.5h-6M348 180.5h6M633 180.5h-6M348 171.5h6M633 171.5h-6M348 162.5h6M633 162.5h-6M348 152.5h6M633 152.5h-6M348 143.5h6M633 143.5h-6M348 134.5h6M633 134.5h-6M348 213.5h4M633 213.5h-4M348 204.5h4M633 204.5h-4M348 194.5h4M633 194.5h-4M348 185.5h4M633 185.5h-4M348 176.5h4M633 176.5h-4M348 166.5h4M633 166.5h-4M348 157.5h4M633 157.5h-4M348 148.5h4M633 148.5h-4M348 138.5h4M633 138.5h-4M348.5 218v-6M348.5 134v6M371.5 218v-4M371.5 134v4M395.5 218v-6M395.5 134v6M419.5 218v-4M419.5 134v4M443.5 218v-6M443.5 134v6M466.5 218v-4M466.5 134v4M490.5 218v-6M490.5 134v6M514.5 218v-4M514.5 134v4M538.5 218v-6M538.5 134v6M561.5 218v-4M561.5 134v4M585.5 218v-6M585.5 134v6M609.5 218v-4M609.5 134v4M633.5 218v-6M633.5 134v6" class="tk"/>
<clipPath id="lRSP"><rect x="349" y="135" width="283" height="82"/></clipPath>
<g clip-path="url(#lRSP)"><polyline points="348.0,188.2 359.9,176.5 371.8,181.2 383.6,185.8 395.5,176.5 407.4,167.2 419.2,157.8 431.1,167.2 443.0,181.2 454.9,181.2 466.8,171.8 478.6,157.8 490.5,157.8 502.4,162.5 514.2,167.2 526.1,171.8 538.0,157.8 549.9,157.8 585.5,199.8 597.4,181.2 609.2,148.5 621.1,157.8 633.0,199.8" class="ln" stroke="#00ffff"/><polyline points="348.0,199.8 359.9,213.8 371.8,199.8 383.6,171.8 395.5,167.2 407.4,181.2 419.2,176.5 431.1,176.5 443.0,181.2 454.9,181.2 466.8,176.5 478.6,171.8 490.5,171.8 502.4,185.8 514.2,176.5 526.1,167.2 538.0,167.2 549.9,176.5 561.8,171.8 573.6,176.5 585.5,185.8 597.4,195.2 609.2,181.2 621.1,153.2" class="ln" stroke="#00ff00"/><polyline points="359.9,185.8 383.6,199.8 395.5,204.5 407.4,204.5 419.2,195.2 431.1,181.2 443.0,204.5 454.9,209.2 466.8,195.2 478.6,190.5 490.5,181.2 502.4,171.8 514.2,148.5 526.1,143.8 538.0,157.8 549.9,167.2 561.8,190.5 573.6,204.5 585.5,218.5 597.4,209.2 609.2,176.5 621.1,185.8 633.0,190.5" class="ln" stroke="#0000ff"/><polyline points="348.0,190.5 359.9,185.8 371.8,209.2 383.6,199.8 395.5,190.5 407.4,204.5 419.2,195.2 431.1,185.8 443.0,181.2 454.9,162.5 466.8,162.5 478.6,195.2 490.5,185.8 502.4,139.2 514.2,148.5 526.1,157.8 538.0,139.2 549.9,162.5 561.8,185.8 573.6,181.2 585.5,171.8 597.4,148.5 609.2,143.8 621.1,143.8 633.0,148.5" class="ln" stroke="#ff0000"/></g>
<rect x="348" y="134" width="285" height="84" class="fr"/>
<clipPath id="cRSP"><rect x="347" y="133" width="287" height="86"/></clipPath>
<g clip-path="url(#cRSP)"><path d="M345.5 185.7l5 5m0 -5l-5 5M348.0 185.2v6M345.0 188.2h6M357.4 174.0l5 5m0 -5l-5 5M359.9 173.5v6M356.9 176.5h6M369.2 178.7l5 5m0 -5l-5 5M371.8 178.2v6M368.8 181.2h6M381.1 183.3l5 5m0 -5l-5 5M383.6 182.8v6M380.6 185.8h6M393.0 174.0l5 5m0 -5l-5 5M395.5 173.5v6M392.5 176.5h6M404.9 164.7l5 5m0 -5l-5 5M407.4 164.2v6M404.4 167.2h6M416.8 155.3l5 5m0 -5l-5 5M419.2 154.8v6M416.2 157.8h6M428.6 164.7l5 5m0 -5l-5 5M431.1 164.2v6M428.1 167.2h6M440.5 178.7l5 5m0 -5l-5 5M443.0 178.2v6M440.0 181.2h6M452.4 178.7l5 5m0 -5l-5 5M454.9 178.2v6M451.9 181.2h6M464.2 169.3l5 5m0 -5l-5 5M466.8 168.8v6M463.8 171.8h6M476.1 155.3l5 5m0 -5l-5 5M478.6 154.8v6M475.6 157.8h6M488.0 155.3l5 5m0 -5l-5 5M490.5 154.8v6M487.5 157.8h6M499.9 160.0l5 5m0 -5l-5 5M502.4 159.5v6M499.4 162.5h6M511.8 164.7l5 5m0 -5l-5 5M514.2 164.2v6M511.2 167.2h6M523.6 169.3l5 5m0 -5l-5 5M526.1 168.8v6M523.1 171.8h6M535.5 155.3l5 5m0 -5l-5 5M538.0 154.8v6M535.0 157.8h6M547.4 155.3l5 5m0 -5l-5 5M549.9 154.8v6M546.9 157.8h6M583.0 197.3l5 5m0 -5l-5 5M585.5 196.8v6M582.5 199.8h6M594.9 178.7l5 5m0 -5l-5 5M597.4 178.2v6M594.4 181.2h6M606.8 146.0l5 5m0 -5l-5 5M609.2 145.5v6M606.2 148.5h6M618.6 155.3l5 5m0 -5l-5 5M621.1 154.8v6M618.1 157.8h6M630.5 197.3l5 5m0 -5l-5 5M633.0 196.8v6M630.0 199.8h6" class="mk" stroke="#00ffff"/><path d="M345.5 197.3l5 5m0 -5l-5 5M348.0 196.8v6M345.0 199.8h6M357.4 211.3l5 5m0 -5l-5 5M359.9 210.8v6M356.9 213.8h6M369.2 197.3l5 5m0 -5l-5 5M371.8 196.8v6M368.8 199.8h6M381.1 169.3l5 5m0 -5l-5 5M383.6 168.8v6M380.6 171.8h6M393.0 164.7l5 5m0 -5l-5 5M395.5 164.2v6M392.5 167.2h6M404.9 178.7l5 5m0 -5l-5 5M407.4 178.2v6M404.4 181.2h6M416.8 174.0l5 5m0 -5l-5 5M419.2 173.5v6M416.2 176.5h6M428.6 174.0l5 5m0 -5l-5 5M431.1 173.5v6M428.1 176.5h6M440.5 178.7l5 5m0 -5l-5 5M443.0 178.2v6M440.0 181.2h6M452.4 178.7l5 5m0 -5l-5 5M454.9 178.2v6M451.9 181.2h6M464.2 174.0l5 5m0 -5l-5 5M466.8 173.5v6M463.8 176.5h6M476.1 169.3l5 5m0 -5l-5 5M478.6 168.8v6M475.6 171.8h6M488.0 169.3l5 5m0 -5l-5 5M490.5 168.8v6M487.5 171.8h6M499.9 183.3l5 5m0 -5l-5 5M502.4 182.8v6M499.4 185.8h6M511.8 174.0l5 5m0 -5l-5 5M514.2 173.5v6M511.2 176.5h6M523.6 164.7l5 5m0 -5l-5 5M526.1 164.2v6M523.1 167.2h6M535.5 164.7l5 5m0 -5l-5 5M538.0 164.2v6M535.0 167.2h6M547.4 174.0l5 5m0 -5l-5 5M549.9 173.5v6M546.9 176.5h6M559.2 169.3l5 5m0 -5l-5 5M561.8 168.8v6M558.8 171.8h6M571.1 174.0l5 5m0 -5l-5 5M573.6 173.5v6M570.6 176.5h6M583.0 183.3l5 5m0 -5l-5 5M585.5 182.8v6M582.5 185.8h6M594.9 192.7l5 5m0 -5l-5 5M597.4 192.2v6M594.4 195.2h6M606.8 178.7l5 5m0 -5l-5 5M609.2 178.2v6M606.2 181.2h6M618.6 150.7l5 5m0 -5l-5 5M621.1 150.2v6M618.1 153.2h6" class="mk" stroke="#00ff00"/><path d="M357.4 183.3l5 5m0 -5l-5 5M359.9 182.8v6M356.9 185.8h6M381.1 197.3l5 5m0 -5l-5 5M383.6 196.8v6M380.6 199.8h6M393.0 202.0l5 5m0 -5l-5 5M395.5 201.5v6M392.5 204.5h6M404.9 202.0l5 5m0 -5l-5 5M407.4 201.5v6M404.4 204.5h6M416.8 192.7l5 5m0 -5l-5 5M419.2 192.2v6M416.2 195.2h6M428.6 178.7l5 5m0 -5l-5 5M431.1 178.2v6M428.1 181.2h6M440.5 202.0l5 5m0 -5l-5 5M443.0 201.5v6M440.0 204.5h6M452.4 206.7l5 5m0 -5l-5 5M454.9 206.2v6M451.9 209.2h6M464.2 192.7l5 5m0 -5l-5 5M466.8 192.2v6M463.8 195.2h6M476.1 188.0l5 5m0 -5l-5 5M478.6 187.5v6M475.6 190.5h6M488.0 178.7l5 5m0 -5l-5 5M490.5 178.2v6M487.5 181.2h6M499.9 169.3l5 5m0 -5l-5 5M502.4 168.8v6M499.4 171.8h6M511.8 146.0l5 5m0 -5l-5 5M514.2 145.5v6M511.2 148.5h6M523.6 141.3l5 5m0 -5l-5 5M526.1 140.8v6M523.1 143.8h6M535.5 155.3l5 5m0 -5l-5 5M538.0 154.8v6M535.0 157.8h6M547.4 164.7l5 5m0 -5l-5 5M549.9 164.2v6M546.9 167.2h6M559.2 188.0l5 5m0 -5l-5 5M561.8 187.5v6M558.8 190.5h6M571.1 202.0l5 5m0 -5l-5 5M573.6 201.5v6M570.6 204.5h6M583.0 216.0l5 5m0 -5l-5 5M585.5 215.5v6M582.5 218.5h6M594.9 206.7l5 5m0 -5l-5 5M597.4 206.2v6M594.4 209.2h6M606.8 174.0l5 5m0 -5l-5 5M609.2 173.5v6M606.2 176.5h6M618.6 183.3l5 5m0 -5l-5 5M621.1 182.8v6M618.1 185.8h6M630.5 188.0l5 5m0 -5l-5 5M633.0 187.5v6M630.0 190.5h6" class="mk" stroke="#0000ff"/><path d="M345.5 188.0l5 5m0 -5l-5 5M348.0 187.5v6M345.0 190.5h6M357.4 183.3l5 5m0 -5l-5 5M359.9 182.8v6M356.9 185.8h6M369.2 206.7l5 5m0 -5l-5 5M371.8 206.2v6M368.8 209.2h6M381.1 197.3l5 5m0 -5l-5 5M383.6 196.8v6M380.6 199.8h6M393.0 188.0l5 5m0 -5l-5 5M395.5 187.5v6M392.5 190.5h6M404.9 202.0l5 5m0 -5l-5 5M407.4 201.5v6M404.4 204.5h6M416.8 192.7l5 5m0 -5l-5 5M419.2 192.2v6M416.2 195.2h6M428.6 183.3l5 5m0 -5l-5 5M431.1 182.8v6M428.1 185.8h6M440.5 178.7l5 5m0 -5l-5 5M443.0 178.2v6M440.0 181.2h6M452.4 160.0l5 5m0 -5l-5 5M454.9 159.5v6M451.9 162.5h6M464.2 160.0l5 5m0 -5l-5 5M466.8 159.5v6M463.8 162.5h6M476.1 192.7l5 5m0 -5l-5 5M478.6 192.2v6M475.6 195.2h6M488.0 183.3l5 5m0 -5l-5 5M490.5 182.8v6M487.5 185.8h6M499.9 136.7l5 5m0 -5l-5 5M502.4 136.2v6M499.4 139.2h6M511.8 146.0l5 5m0 -5l-5 5M514.2 145.5v6M511.2 148.5h6M523.6 155.3l5 5m0 -5l-5 5M526.1 154.8v6M523.1 157.8h6M535.5 136.7l5 5m0 -5l-5 5M538.0 136.2v6M535.0 139.2h6M547.4 160.0l5 5m0 -5l-5 5M549.9 159.5v6M546.9 162.5h6M559.2 183.3l5 5m0 -5l-5 5M561.8 182.8v6M558.8 185.8h6M571.1 178.7l5 5m0 -5l-5 5M573.6 178.2v6M570.6 181.2h6M583.0 169.3l5 5m0 -5l-5 5M585.5 168.8v6M582.5 171.8h6M594.9 146.0l5 5m0 -5l-5 5M597.4 145.5v6M594.4 148.5h6M606.8 141.3l5 5m0 -5l-5 5M609.2 140.8v6M606.2 143.8h6M618.6 141.3l5 5m0 -5l-5 5M621.1 140.8v6M618.1 143.8h6M630.5 146.0l5 5m0 -5l-5 5M633.0 145.5v6M630.0 148.5h6" class="mk" stroke="#ff0000"/></g>
<g><line x1="349" y1="208.5" x2="632" y2="208.5" class="gd"/><line x1="349" y1="199.5" x2="632" y2="199.5" class="gd"/><line x1="349" y1="190.5" x2="632" y2="190.5" class="gd"/><line x1="349" y1="180.5" x2="632" y2="180.5" class="gd"/><line x1="349" y1="171.5" x2="632" y2="171.5" class="gd"/><line x1="349" y1="162.5" x2="632" y2="162.5" class="gd"/><line x1="349" y1="152.5" x2="632" y2="152.5" class="gd"/><line x1="349" y1="143.5" x2="632" y2="143.5" class="gd"/><line x1="395.5" y1="135" x2="395.5" y2="217" class="gd"/><line x1="443.5" y1="135" x2="443.5" y2="217" class="gd"/><line x1="490.5" y1="135" x2="490.5" y2="217" class="gd"/><line x1="538.5" y1="135" x2="538.5" y2="217" class="gd"/><line x1="585.5" y1="135" x2="585.5" y2="217" class="gd"/><text x="343.4" y="221.3" class="yl" textLength="5.1" lengthAdjust="spacingAndGlyphs">0</text><text x="343.4" y="212.0" class="yl" textLength="5.1" lengthAdjust="spacingAndGlyphs">2</text><text x="343.4" y="202.6" class="yl" textLength="5.1" lengthAdjust="spacingAndGlyphs">4</text><text x="343.4" y="193.3" class="yl" textLength="5.1" lengthAdjust="spacingAndGlyphs">6</text><text x="343.4" y="184.0" class="yl" textLength="5.1" lengthAdjust="spacingAndGlyphs">8</text><text x="343.4" y="174.6" class="yl" textLength="10.2" lengthAdjust="spacingAndGlyphs">10</text><text x="343.4" y="165.3" class="yl" textLength="10.2" lengthAdjust="spacingAndGlyphs">12</text><text x="343.4" y="156.0" class="yl" textLength="10.2" lengthAdjust="spacingAndGlyphs">14</text><text x="343.4" y="146.6" class="yl" textLength="10.2" lengthAdjust="spacingAndGlyphs">16</text><text x="343.4" y="137.3" class="yl" textLength="10.2" lengthAdjust="spacingAndGlyphs">18</text><text x="348.2" y="229.2" class="xl" textLength="5.1" lengthAdjust="spacingAndGlyphs">0</text><text x="395.7" y="229.2" class="xl" textLength="5.1" lengthAdjust="spacingAndGlyphs">4</text><text x="443.2" y="229.2" class="xl" textLength="5.1" lengthAdjust="spacingAndGlyphs">8</text><text x="490.7" y="229.2" class="xl" textLength="10.2" lengthAdjust="spacingAndGlyphs">12</text><text x="538.2" y="229.2" class="xl" textLength="10.2" lengthAdjust="spacingAndGlyphs">16</text><text x="585.7" y="229.2" class="xl" textLength="10.2" lengthAdjust="spacingAndGlyphs">20</text><text x="633.2" y="229.2" class="xl" textLength="10.2" lengthAdjust="spacingAndGlyphs">24</text><text x="577.0" y="130.7" class="pt" textLength="16.0" lengthAdjust="spacingAndGlyphs">RSP</text><text x="597.3" y="130.7" class="pt" textLength="36.7" lengthAdjust="spacingAndGlyphs">(ug/m3)</text></g>
<path d="M673 218.5h6M958 218.5h-6M673 204.5h6M958 204.5h-6M673 190.5h6M958 190.5h-6M673 176.5h6M958 176.5h-6M673 162.5h6M958 162.5h-6M673 148.5h6M958 148.5h-6M673 134.5h6M958 134.5h-6M673 211.5h4M958 211.5h-4M673 197.5h4M958 197.5h-4M673 183.5h4M958 183.5h-4M673 169.5h4M958 169.5h-4M673 155.5h4M958 155.5h-4M673 141.5h4M958 141.5h-4M673.5 218v-6M673.5 134v6M696.5 218v-4M696.5 134v4M720.5 218v-6M720.5 134v6M744.5 218v-4M744.5 134v4M768.5 218v-6M768.5 134v6M791.5 218v-4M791.5 134v4M815.5 218v-6M815.5 134v6M839.5 218v-4M839.5 134v4M863.5 218v-6M863.5 134v6M886.5 218v-4M886.5 134v4M910.5 218v-6M910.5 134v6M934.5 218v-4M934.5 134v4M958.5 218v-6M958.5 134v6" class="tk"/>
<clipPath id="lFSP"><rect x="674" y="135" width="283" height="82"/></clipPath>
<g clip-path="url(#lFSP)"><polyline points="673.0,197.5 684.9,183.5 696.8,176.5 708.6,176.5 720.5,162.5 732.4,169.5 744.2,162.5 756.1,176.5 768.0,183.5 779.9,176.5 791.8,176.5 803.6,176.5 815.5,190.5 827.4,176.5 839.2,162.5 851.1,183.5 863.0,190.5 874.9,176.5 886.8,183.5 898.6,183.5 910.5,190.5 922.4,183.5 934.2,176.5 946.1,176.5 958.0,190.5" class="ln" stroke="#00ffff"/><polyline points="673.0,190.5 684.9,194.0 696.8,197.5 708.6,176.5 720.5,176.5 732.4,183.5 744.2,183.5 756.1,190.5 768.0,190.5 779.9,190.5 791.8,190.5 803.6,190.5 815.5,183.5 827.4,204.5 839.2,183.5 851.1,162.5 863.0,169.5 874.9,176.5 886.8,183.5 898.6,183.5 910.5,183.5 922.4,190.5 934.2,169.5 946.1,148.5" class="ln" stroke="#00ff00"/><polyline points="684.9,197.5 720.5,197.5 732.4,204.5 744.2,197.5 756.1,183.5 768.0,204.5 779.9,204.5 791.8,190.5 803.6,197.5 815.5,211.5 827.4,190.5 839.2,155.5 851.1,141.5 863.0,162.5 874.9,183.5 886.8,218.5 898.6,218.5 910.5,218.5 922.4,204.5 934.2,176.5 946.1,162.5 958.0,162.5" class="ln" stroke="#0000ff"/><polyline points="673.0,162.5 684.9,183.5 696.8,204.5 708.6,204.5 720.5,197.5 732.4,190.5 744.2,190.5 756.1,197.5 768.0,190.5 779.9,169.5 791.8,162.5 803.6,176.5 815.5,183.5 827.4,169.5 839.2,162.5 851.1,155.5 863.0,148.5 874.9,141.5 886.8,162.5 898.6,204.5 910.5,183.5 922.4,148.5 934.2,141.5 946.1,141.5 958.0,162.5" class="ln" stroke="#ff0000"/></g>
<rect x="673" y="134" width="285" height="84" class="fr"/>
<clipPath id="cFSP"><rect x="672" y="133" width="287" height="86"/></clipPath>
<g clip-path="url(#cFSP)"><path d="M670.5 195.0l5 5m0 -5l-5 5M673.0 194.5v6M670.0 197.5h6M682.4 181.0l5 5m0 -5l-5 5M684.9 180.5v6M681.9 183.5h6M694.2 174.0l5 5m0 -5l-5 5M696.8 173.5v6M693.8 176.5h6M706.1 174.0l5 5m0 -5l-5 5M708.6 173.5v6M705.6 176.5h6M718.0 160.0l5 5m0 -5l-5 5M720.5 159.5v6M717.5 162.5h6M729.9 167.0l5 5m0 -5l-5 5M732.4 166.5v6M729.4 169.5h6M741.8 160.0l5 5m0 -5l-5 5M744.2 159.5v6M741.2 162.5h6M753.6 174.0l5 5m0 -5l-5 5M756.1 173.5v6M753.1 176.5h6M765.5 181.0l5 5m0 -5l-5 5M768.0 180.5v6M765.0 183.5h6M777.4 174.0l5 5m0 -5l-5 5M779.9 173.5v6M776.9 176.5h6M789.2 174.0l5 5m0 -5l-5 5M791.8 173.5v6M788.8 176.5h6M801.1 174.0l5 5m0 -5l-5 5M803.6 173.5v6M800.6 176.5h6M813.0 188.0l5 5m0 -5l-5 5M815.5 187.5v6M812.5 190.5h6M824.9 174.0l5 5m0 -5l-5 5M827.4 173.5v6M824.4 176.5h6M836.8 160.0l5 5m0 -5l-5 5M839.2 159.5v6M836.2 162.5h6M848.6 181.0l5 5m0 -5l-5 5M851.1 180.5v6M848.1 183.5h6M860.5 188.0l5 5m0 -5l-5 5M863.0 187.5v6M860.0 190.5h6M872.4 174.0l5 5m0 -5l-5 5M874.9 173.5v6M871.9 176.5h6M884.2 181.0l5 5m0 -5l-5 5M886.8 180.5v6M883.8 183.5h6M896.1 181.0l5 5m0 -5l-5 5M898.6 180.5v6M895.6 183.5h6M908.0 188.0l5 5m0 -5l-5 5M910.5 187.5v6M907.5 190.5h6M919.9 181.0l5 5m0 -5l-5 5M922.4 180.5v6M919.4 183.5h6M931.8 174.0l5 5m0 -5l-5 5M934.2 173.5v6M931.2 176.5h6M943.6 174.0l5 5m0 -5l-5 5M946.1 173.5v6M943.1 176.5h6M955.5 188.0l5 5m0 -5l-5 5M958.0 187.5v6M955.0 190.5h6" class="mk" stroke="#00ffff"/><path d="M670.5 188.0l5 5m0 -5l-5 5M673.0 187.5v6M670.0 190.5h6M682.4 191.5l5 5m0 -5l-5 5M684.9 191.0v6M681.9 194.0h6M694.2 195.0l5 5m0 -5l-5 5M696.8 194.5v6M693.8 197.5h6M706.1 174.0l5 5m0 -5l-5 5M708.6 173.5v6M705.6 176.5h6M718.0 174.0l5 5m0 -5l-5 5M720.5 173.5v6M717.5 176.5h6M729.9 181.0l5 5m0 -5l-5 5M732.4 180.5v6M729.4 183.5h6M741.8 181.0l5 5m0 -5l-5 5M744.2 180.5v6M741.2 183.5h6M753.6 188.0l5 5m0 -5l-5 5M756.1 187.5v6M753.1 190.5h6M765.5 188.0l5 5m0 -5l-5 5M768.0 187.5v6M765.0 190.5h6M777.4 188.0l5 5m0 -5l-5 5M779.9 187.5v6M776.9 190.5h6M789.2 188.0l5 5m0 -5l-5 5M791.8 187.5v6M788.8 190.5h6M801.1 188.0l5 5m0 -5l-5 5M803.6 187.5v6M800.6 190.5h6M813.0 181.0l5 5m0 -5l-5 5M815.5 180.5v6M812.5 183.5h6M824.9 202.0l5 5m0 -5l-5 5M827.4 201.5v6M824.4 204.5h6M836.8 181.0l5 5m0 -5l-5 5M839.2 180.5v6M836.2 183.5h6M848.6 160.0l5 5m0 -5l-5 5M851.1 159.5v6M848.1 162.5h6M860.5 167.0l5 5m0 -5l-5 5M863.0 166.5v6M860.0 169.5h6M872.4 174.0l5 5m0 -5l-5 5M874.9 173.5v6M871.9 176.5h6M884.2 181.0l5 5m0 -5l-5 5M886.8 180.5v6M883.8 183.5h6M896.1 181.0l5 5m0 -5l-5 5M898.6 180.5v6M895.6 183.5h6M908.0 181.0l5 5m0 -5l-5 5M910.5 180.5v6M907.5 183.5h6M919.9 188.0l5 5m0 -5l-5 5M922.4 187.5v6M919.4 190.5h6M931.8 167.0l5 5m0 -5l-5 5M934.2 166.5v6M931.2 169.5h6M943.6 146.0l5 5m0 -5l-5 5M946.1 145.5v6M943.1 148.5h6" class="mk" stroke="#00ff00"/><path d="M682.4 195.0l5 5m0 -5l-5 5M684.9 194.5v6M681.9 197.5h6M718.0 195.0l5 5m0 -5l-5 5M720.5 194.5v6M717.5 197.5h6M729.9 202.0l5 5m0 -5l-5 5M732.4 201.5v6M729.4 204.5h6M741.8 195.0l5 5m0 -5l-5 5M744.2 194.5v6M741.2 197.5h6M753.6 181.0l5 5m0 -5l-5 5M756.1 180.5v6M753.1 183.5h6M765.5 202.0l5 5m0 -5l-5 5M768.0 201.5v6M765.0 204.5h6M777.4 202.0l5 5m0 -5l-5 5M779.9 201.5v6M776.9 204.5h6M789.2 188.0l5 5m0 -5l-5 5M791.8 187.5v6M788.8 190.5h6M801.1 195.0l5 5m0 -5l-5 5M803.6 194.5v6M800.6 197.5h6M813.0 209.0l5 5m0 -5l-5 5M815.5 208.5v6M812.5 211.5h6M824.9 188.0l5 5m0 -5l-5 5M827.4 187.5v6M824.4 190.5h6M836.8 153.0l5 5m0 -5l-5 5M839.2 152.5v6M836.2 155.5h6M848.6 139.0l5 5m0 -5l-5 5M851.1 138.5v6M848.1 141.5h6M860.5 160.0l5 5m0 -5l-5 5M863.0 159.5v6M860.0 162.5h6M872.4 181.0l5 5m0 -5l-5 5M874.9 180.5v6M871.9 183.5h6M884.2 216.0l5 5m0 -5l-5 5M886.8 215.5v6M883.8 218.5h6M896.1 216.0l5 5m0 -5l-5 5M898.6 215.5v6M895.6 218.5h6M908.0 216.0l5 5m0 -5l-5 5M910.5 215.5v6M907.5 218.5h6M919.9 202.0l5 5m0 -5l-5 5M922.4 201.5v6M919.4 204.5h6M931.8 174.0l5 5m0 -5l-5 5M934.2 173.5v6M931.2 176.5h6M943.6 160.0l5 5m0 -5l-5 5M946.1 159.5v6M943.1 162.5h6M955.5 160.0l5 5m0 -5l-5 5M958.0 159.5v6M955.0 162.5h6" class="mk" stroke="#0000ff"/><path d="M670.5 160.0l5 5m0 -5l-5 5M673.0 159.5v6M670.0 162.5h6M682.4 181.0l5 5m0 -5l-5 5M684.9 180.5v6M681.9 183.5h6M694.2 202.0l5 5m0 -5l-5 5M696.8 201.5v6M693.8 204.5h6M706.1 202.0l5 5m0 -5l-5 5M708.6 201.5v6M705.6 204.5h6M718.0 195.0l5 5m0 -5l-5 5M720.5 194.5v6M717.5 197.5h6M729.9 188.0l5 5m0 -5l-5 5M732.4 187.5v6M729.4 190.5h6M741.8 188.0l5 5m0 -5l-5 5M744.2 187.5v6M741.2 190.5h6M753.6 195.0l5 5m0 -5l-5 5M756.1 194.5v6M753.1 197.5h6M765.5 188.0l5 5m0 -5l-5 5M768.0 187.5v6M765.0 190.5h6M777.4 167.0l5 5m0 -5l-5 5M779.9 166.5v6M776.9 169.5h6M789.2 160.0l5 5m0 -5l-5 5M791.8 159.5v6M788.8 162.5h6M801.1 174.0l5 5m0 -5l-5 5M803.6 173.5v6M800.6 176.5h6M813.0 181.0l5 5m0 -5l-5 5M815.5 180.5v6M812.5 183.5h6M824.9 167.0l5 5m0 -5l-5 5M827.4 166.5v6M824.4 169.5h6M836.8 160.0l5 5m0 -5l-5 5M839.2 159.5v6M836.2 162.5h6M848.6 153.0l5 5m0 -5l-5 5M851.1 152.5v6M848.1 155.5h6M860.5 146.0l5 5m0 -5l-5 5M863.0 145.5v6M860.0 148.5h6M872.4 139.0l5 5m0 -5l-5 5M874.9 138.5v6M871.9 141.5h6M884.2 160.0l5 5m0 -5l-5 5M886.8 159.5v6M883.8 162.5h6M896.1 202.0l5 5m0 -5l-5 5M898.6 201.5v6M895.6 204.5h6M908.0 181.0l5 5m0 -5l-5 5M910.5 180.5v6M907.5 183.5h6M919.9 146.0l5 5m0 -5l-5 5M922.4 145.5v6M919.4 148.5h6M931.8 139.0l5 5m0 -5l-5 5M934.2 138.5v6M931.2 141.5h6M943.6 139.0l5 5m0 -5l-5 5M946.1 138.5v6M943.1 141.5h6M955.5 160.0l5 5m0 -5l-5 5M958.0 159.5v6M955.0 162.5h6" class="mk" stroke="#ff0000"/></g>
<g><line x1="674" y1="204.5" x2="957" y2="204.5" class="gd"/><line x1="674" y1="190.5" x2="957" y2="190.5" class="gd"/><line x1="674" y1="176.5" x2="957" y2="176.5" class="gd"/><line x1="674" y1="162.5" x2="957" y2="162.5" class="gd"/><line x1="674" y1="148.5" x2="957" y2="148.5" class="gd"/><line x1="720.5" y1="135" x2="720.5" y2="217" class="gd"/><line x1="768.5" y1="135" x2="768.5" y2="217" class="gd"/><line x1="815.5" y1="135" x2="815.5" y2="217" class="gd"/><line x1="863.5" y1="135" x2="863.5" y2="217" class="gd"/><line x1="910.5" y1="135" x2="910.5" y2="217" class="gd"/><text x="668.4" y="221.3" class="yl" textLength="5.1" lengthAdjust="spacingAndGlyphs">0</text><text x="668.4" y="207.3" class="yl" textLength="5.1" lengthAdjust="spacingAndGlyphs">2</text><text x="668.4" y="193.3" class="yl" textLength="5.1" lengthAdjust="spacingAndGlyphs">4</text><text x="668.4" y="179.3" class="yl" textLength="5.1" lengthAdjust="spacingAndGlyphs">6</text><text x="668.4" y="165.3" class="yl" textLength="5.1" lengthAdjust="spacingAndGlyphs">8</text><text x="668.4" y="151.3" class="yl" textLength="10.2" lengthAdjust="spacingAndGlyphs">10</text><text x="668.4" y="137.3" class="yl" textLength="10.2" lengthAdjust="spacingAndGlyphs">12</text><text x="673.2" y="229.2" class="xl" textLength="5.1" lengthAdjust="spacingAndGlyphs">0</text><text x="720.7" y="229.2" class="xl" textLength="5.1" lengthAdjust="spacingAndGlyphs">4</text><text x="768.2" y="229.2" class="xl" textLength="5.1" lengthAdjust="spacingAndGlyphs">8</text><text x="815.7" y="229.2" class="xl" textLength="10.2" lengthAdjust="spacingAndGlyphs">12</text><text x="863.2" y="229.2" class="xl" textLength="10.2" lengthAdjust="spacingAndGlyphs">16</text><text x="910.7" y="229.2" class="xl" textLength="10.2" lengthAdjust="spacingAndGlyphs">20</text><text x="958.2" y="229.2" class="xl" textLength="10.2" lengthAdjust="spacingAndGlyphs">24</text><text x="902.7" y="130.7" class="pt" textLength="15.6" lengthAdjust="spacingAndGlyphs">FSP</text><text x="922.3" y="130.7" class="pt" textLength="35.7" lengthAdjust="spacingAndGlyphs">(ug/m3)</text></g>
<path d="M23 326.5h6M308 326.5h-6M23 316.5h6M308 316.5h-6M23 307.5h6M308 307.5h-6M23 298.5h6M308 298.5h-6M23 288.5h6M308 288.5h-6M23 279.5h6M308 279.5h-6M23 270.5h6M308 270.5h-6M23 260.5h6M308 260.5h-6M23 251.5h6M308 251.5h-6M23 242.5h6M308 242.5h-6M23 321.5h4M308 321.5h-4M23 312.5h4M308 312.5h-4M23 302.5h4M308 302.5h-4M23 293.5h4M308 293.5h-4M23 284.5h4M308 284.5h-4M23 274.5h4M308 274.5h-4M23 265.5h4M308 265.5h-4M23 256.5h4M308 256.5h-4M23 246.5h4M308 246.5h-4M23.5 326v-6M23.5 242v6M46.5 326v-4M46.5 242v4M70.5 326v-6M70.5 242v6M94.5 326v-4M94.5 242v4M118.5 326v-6M118.5 242v6M141.5 326v-4M141.5 242v4M165.5 326v-6M165.5 242v6M189.5 326v-4M189.5 242v4M213.5 326v-6M213.5 242v6M236.5 326v-4M236.5 242v4M260.5 326v-6M260.5 242v6M284.5 326v-4M284.5 242v4M308.5 326v-6M308.5 242v6" class="tk"/>
<clipPath id="lSO2"><rect x="24" y="243" width="283" height="82"/></clipPath>
<g clip-path="url(#lSO2)"><polyline points="23.0,283.6 34.9,283.6 46.8,291.0 58.6,291.0 70.5,286.4 82.4,279.8 94.2,293.8 106.1,279.8 118.0,290.1 129.9,303.2 141.8,307.8 153.6,301.3 165.5,276.1 177.4,287.3 189.2,282.6 201.1,304.1 213.0,308.8 224.9,304.1 236.8,276.1 248.6,282.6 260.5,279.8 272.4,282.6 284.2,304.1 296.1,311.6 308.0,311.6" class="ln" stroke="#00ffff"/><polyline points="23.0,311.6 34.9,301.3 46.8,304.1 58.6,308.8 70.5,297.6 82.4,298.5 94.2,279.8 106.1,276.1 118.0,283.6 129.9,289.2 141.8,269.6 153.6,293.8 165.5,294.8 177.4,297.6 189.2,301.3 201.1,302.2 213.0,301.3 224.9,293.8 236.8,279.8 248.6,272.4 260.5,265.8 272.4,251.8 284.2,273.3 296.1,297.6" class="ln" stroke="#00ff00"/><polyline points="34.9,276.1 46.8,307.8 58.6,311.6 82.4,308.8 94.2,311.6 106.1,311.6 118.0,304.1 129.9,291.0 141.8,304.1 153.6,287.3 165.5,301.3 177.4,291.0 189.2,276.1 201.1,297.6 213.0,291.0 224.9,311.6 236.8,311.6 248.6,311.6 260.5,311.6 272.4,311.6 284.2,311.6 296.1,311.6 308.0,311.6" class="ln" stroke="#0000ff"/><polyline points="23.0,311.6 34.9,311.6 46.8,315.3 58.6,311.6 70.5,315.3 82.4,311.6 94.2,319.0 106.1,311.6 118.0,307.8 129.9,304.1 141.8,308.8 153.6,308.8 165.5,293.8 177.4,291.0 189.2,279.8 201.1,291.0 213.0,291.0 224.9,287.3 236.8,293.8 248.6,283.6 260.5,255.6 272.4,293.8 284.2,308.8 296.1,311.6 308.0,311.6" class="ln" stroke="#ff0000"/></g>
<rect x="23" y="242" width="285" height="84" class="fr"/>
<clipPath id="cSO2"><rect x="22" y="241" width="287" height="86"/></clipPath>
<g clip-path="url(#cSO2)"><path d="M20.5 281.1l5 5m0 -5l-5 5M23.0 280.6v6M20.0 283.6h6M32.4 281.1l5 5m0 -5l-5 5M34.9 280.6v6M31.9 283.6h6M44.2 288.5l5 5m0 -5l-5 5M46.8 288.0v6M43.8 291.0h6M56.1 288.5l5 5m0 -5l-5 5M58.6 288.0v6M55.6 291.0h6M68.0 283.9l5 5m0 -5l-5 5M70.5 283.4v6M67.5 286.4h6M79.9 277.3l5 5m0 -5l-5 5M82.4 276.8v6M79.4 279.8h6M91.8 291.3l5 5m0 -5l-5 5M94.2 290.8v6M91.2 293.8h6M103.6 277.3l5 5m0 -5l-5 5M106.1 276.8v6M103.1 279.8h6M115.5 287.6l5 5m0 -5l-5 5M118.0 287.1v6M115.0 290.1h6M127.4 300.7l5 5m0 -5l-5 5M129.9 300.2v6M126.9 303.2h6M139.2 305.3l5 5m0 -5l-5 5M141.8 304.8v6M138.8 307.8h6M151.1 298.8l5 5m0 -5l-5 5M153.6 298.3v6M150.6 301.3h6M163.0 273.6l5 5m0 -5l-5 5M165.5 273.1v6M162.5 276.1h6M174.9 284.8l5 5m0 -5l-5 5M177.4 284.3v6M174.4 287.3h6M186.8 280.1l5 5m0 -5l-5 5M189.2 279.6v6M186.2 282.6h6M198.6 301.6l5 5m0 -5l-5 5M201.1 301.1v6M198.1 304.1h6M210.5 306.3l5 5m0 -5l-5 5M213.0 305.8v6M210.0 308.8h6M222.4 301.6l5 5m0 -5l-5 5M224.9 301.1v6M221.9 304.1h6M234.2 273.6l5 5m0 -5l-5 5M236.8 273.1v6M233.8 276.1h6M246.1 280.1l5 5m0 -5l-5 5M248.6 279.6v6M245.6 282.6h6M258.0 277.3l5 5m0 -5l-5 5M260.5 276.8v6M257.5 279.8h6M269.9 280.1l5 5m0 -5l-5 5M272.4 279.6v6M269.4 282.6h6M281.8 301.6l5 5m0 -5l-5 5M284.2 301.1v6M281.2 304.1h6M293.6 309.1l5 5m0 -5l-5 5M296.1 308.6v6M293.1 311.6h6M305.5 309.1l5 5m0 -5l-5 5M308.0 308.6v6M305.0 311.6h6" class="mk" stroke="#00ffff"/><path d="M20.5 309.1l5 5m0 -5l-5 5M23.0 308.6v6M20.0 311.6h6M32.4 298.8l5 5m0 -5l-5 5M34.9 298.3v6M31.9 301.3h6M44.2 301.6l5 5m0 -5l-5 5M46.8 301.1v6M43.8 304.1h6M56.1 306.3l5 5m0 -5l-5 5M58.6 305.8v6M55.6 308.8h6M68.0 295.1l5 5m0 -5l-5 5M70.5 294.6v6M67.5 297.6h6M79.9 296.0l5 5m0 -5l-5 5M82.4 295.5v6M79.4 298.5h6M91.8 277.3l5 5m0 -5l-5 5M94.2 276.8v6M91.2 279.8h6M103.6 273.6l5 5m0 -5l-5 5M106.1 273.1v6M103.1 276.1h6M115.5 281.1l5 5m0 -5l-5 5M118.0 280.6v6M115.0 283.6h6M127.4 286.7l5 5m0 -5l-5 5M129.9 286.2v6M126.9 289.2h6M139.2 267.1l5 5m0 -5l-5 5M141.8 266.6v6M138.8 269.6h6M151.1 291.3l5 5m0 -5l-5 5M153.6 290.8v6M150.6 293.8h6M163.0 292.3l5 5m0 -5l-5 5M165.5 291.8v6M162.5 294.8h6M174.9 295.1l5 5m0 -5l-5 5M177.4 294.6v6M174.4 297.6h6M186.8 298.8l5 5m0 -5l-5 5M189.2 298.3v6M186.2 301.3h6M198.6 299.7l5 5m0 -5l-5 5M201.1 299.2v6M198.1 302.2h6M210.5 298.8l5 5m0 -5l-5 5M213.0 298.3v6M210.0 301.3h6M222.4 291.3l5 5m0 -5l-5 5M224.9 290.8v6M221.9 293.8h6M234.2 277.3l5 5m0 -5l-5 5M236.8 276.8v6M233.8 279.8h6M246.1 269.9l5 5m0 -5l-5 5M248.6 269.4v6M245.6 272.4h6M258.0 263.3l5 5m0 -5l-5 5M260.5 262.8v6M257.5 265.8h6M269.9 249.3l5 5m0 -5l-5 5M272.4 248.8v6M269.4 251.8h6M281.8 270.8l5 5m0 -5l-5 5M284.2 270.3v6M281.2 273.3h6M293.6 295.1l5 5m0 -5l-5 5M296.1 294.6v6M293.1 297.6h6" class="mk" stroke="#00ff00"/><path d="M32.4 273.6l5 5m0 -5l-5 5M34.9 273.1v6M31.9 276.1h6M44.2 305.3l5 5m0 -5l-5 5M46.8 304.8v6M43.8 307.8h6M56.1 309.1l5 5m0 -5l-5 5M58.6 308.6v6M55.6 311.6h6M79.9 306.3l5 5m0 -5l-5 5M82.4 305.8v6M79.4 308.8h6M91.8 309.1l5 5m0 -5l-5 5M94.2 308.6v6M91.2 311.6h6M103.6 309.1l5 5m0 -5l-5 5M106.1 308.6v6M103.1 311.6h6M115.5 301.6l5 5m0 -5l-5 5M118.0 301.1v6M115.0 304.1h6M127.4 288.5l5 5m0 -5l-5 5M129.9 288.0v6M126.9 291.0h6M139.2 301.6l5 5m0 -5l-5 5M141.8 301.1v6M138.8 304.1h6M151.1 284.8l5 5m0 -5l-5 5M153.6 284.3v6M150.6 287.3h6M163.0 298.8l5 5m0 -5l-5 5M165.5 298.3v6M162.5 301.3h6M174.9 288.5l5 5m0 -5l-5 5M177.4 288.0v6M174.4 291.0h6M186.8 273.6l5 5m0 -5l-5 5M189.2 273.1v6M186.2 276.1h6M198.6 295.1l5 5m0 -5l-5 5M201.1 294.6v6M198.1 297.6h6M210.5 288.5l5 5m0 -5l-5 5M213.0 288.0v6M210.0 291.0h6M222.4 309.1l5 5m0 -5l-5 5M224.9 308.6v6M221.9 311.6h6M234.2 309.1l5 5m0 -5l-5 5M236.8 308.6v6M233.8 311.6h6M246.1 309.1l5 5m0 -5l-5 5M248.6 308.6v6M245.6 311.6h6M258.0 309.1l5 5m0 -5l-5 5M260.5 308.6v6M257.5 311.6h6M269.9 309.1l5 5m0 -5l-5 5M272.4 308.6v6M269.4 311.6h6M281.8 309.1l5 5m0 -5l-5 5M284.2 308.6v6M281.2 311.6h6M293.6 309.1l5 5m0 -5l-5 5M296.1 308.6v6M293.1 311.6h6M305.5 309.1l5 5m0 -5l-5 5M308.0 308.6v6M305.0 311.6h6" class="mk" stroke="#0000ff"/><path d="M20.5 309.1l5 5m0 -5l-5 5M23.0 308.6v6M20.0 311.6h6M32.4 309.1l5 5m0 -5l-5 5M34.9 308.6v6M31.9 311.6h6M44.2 312.8l5 5m0 -5l-5 5M46.8 312.3v6M43.8 315.3h6M56.1 309.1l5 5m0 -5l-5 5M58.6 308.6v6M55.6 311.6h6M68.0 312.8l5 5m0 -5l-5 5M70.5 312.3v6M67.5 315.3h6M79.9 309.1l5 5m0 -5l-5 5M82.4 308.6v6M79.4 311.6h6M91.8 316.5l5 5m0 -5l-5 5M94.2 316.0v6M91.2 319.0h6M103.6 309.1l5 5m0 -5l-5 5M106.1 308.6v6M103.1 311.6h6M115.5 305.3l5 5m0 -5l-5 5M118.0 304.8v6M115.0 307.8h6M127.4 301.6l5 5m0 -5l-5 5M129.9 301.1v6M126.9 304.1h6M139.2 306.3l5 5m0 -5l-5 5M141.8 305.8v6M138.8 308.8h6M151.1 306.3l5 5m0 -5l-5 5M153.6 305.8v6M150.6 308.8h6M163.0 291.3l5 5m0 -5l-5 5M165.5 290.8v6M162.5 293.8h6M174.9 288.5l5 5m0 -5l-5 5M177.4 288.0v6M174.4 291.0h6M186.8 277.3l5 5m0 -5l-5 5M189.2 276.8v6M186.2 279.8h6M198.6 288.5l5 5m0 -5l-5 5M201.1 288.0v6M198.1 291.0h6M210.5 288.5l5 5m0 -5l-5 5M213.0 288.0v6M210.0 291.0h6M222.4 284.8l5 5m0 -5l-5 5M224.9 284.3v6M221.9 287.3h6M234.2 291.3l5 5m0 -5l-5 5M236.8 290.8v6M233.8 293.8h6M246.1 281.1l5 5m0 -5l-5 5M248.6 280.6v6M245.6 283.6h6M258.0 253.1l5 5m0 -5l-5 5M260.5 252.6v6M257.5 255.6h6M269.9 291.3l5 5m0 -5l-5 5M272.4 290.8v6M269.4 293.8h6M281.8 306.3l5 5m0 -5l-5 5M284.2 305.8v6M281.2 308.8h6M293.6 309.1l5 5m0 -5l-5 5M296.1 308.6v6M293.1 311.6h6M305.5 309.1l5 5m0 -5l-5 5M308.0 308.6v6M305.0 311.6h6" class="mk" stroke="#ff0000"/></g>
<g><line x1="24" y1="316.5" x2="307" y2="316.5" class="gd"/><line x1="24" y1="307.5" x2="307" y2="307.5" class="gd"/><line x1="24" y1="298.5" x2="307" y2="298.5" class="gd"/><line x1="24" y1="288.5" x2="307" y2="288.5" class="gd"/><line x1="24" y1="279.5" x2="307" y2="279.5" class="gd"/><line x1="24" y1="270.5" x2="307" y2="270.5" class="gd"/><line x1="24" y1="260.5" x2="307" y2="260.5" class="gd"/><line x1="24" y1="251.5" x2="307" y2="251.5" class="gd"/><line x1="70.5" y1="243" x2="70.5" y2="325" class="gd"/><line x1="118.5" y1="243" x2="118.5" y2="325" class="gd"/><line x1="165.5" y1="243" x2="165.5" y2="325" class="gd"/><line x1="213.5" y1="243" x2="213.5" y2="325" class="gd"/><line x1="260.5" y1="243" x2="260.5" y2="325" class="gd"/><text x="18.4" y="329.3" class="yl" textLength="5.1" lengthAdjust="spacingAndGlyphs">0</text><text x="18.4" y="320.0" class="yl" textLength="5.1" lengthAdjust="spacingAndGlyphs">1</text><text x="18.4" y="310.6" class="yl" textLength="5.1" lengthAdjust="spacingAndGlyphs">2</text><text x="18.4" y="301.3" class="yl" textLength="5.1" lengthAdjust="spacingAndGlyphs">3</text><text x="18.4" y="292.0" class="yl" textLength="5.1" lengthAdjust="spacingAndGlyphs">4</text><text x="18.4" y="282.6" class="yl" textLength="5.1" lengthAdjust="spacingAndGlyphs">5</text><text x="18.4" y="273.3" class="yl" textLength="5.1" lengthAdjust="spacingAndGlyphs">6</text><text x="18.4" y="264.0" class="yl" textLength="5.1" lengthAdjust="spacingAndGlyphs">7</text><text x="18.4" y="254.6" class="yl" textLength="5.1" lengthAdjust="spacingAndGlyphs">8</text><text x="18.4" y="245.3" class="yl" textLength="5.1" lengthAdjust="spacingAndGlyphs">9</text><text x="23.2" y="337.2" class="xl" textLength="5.1" lengthAdjust="spacingAndGlyphs">0</text><text x="70.7" y="337.2" class="xl" textLength="5.1" lengthAdjust="spacingAndGlyphs">4</text><text x="118.2" y="337.2" class="xl" textLength="5.1" lengthAdjust="spacingAndGlyphs">8</text><text x="165.7" y="337.2" class="xl" textLength="10.2" lengthAdjust="spacingAndGlyphs">12</text><text x="213.2" y="337.2" class="xl" textLength="10.2" lengthAdjust="spacingAndGlyphs">16</text><text x="260.7" y="337.2" class="xl" textLength="10.2" lengthAdjust="spacingAndGlyphs">20</text><text x="308.2" y="337.2" class="xl" textLength="10.2" lengthAdjust="spacingAndGlyphs">24</text><text x="267.0" y="238.7" class="pt" textLength="15.0" lengthAdjust="spacingAndGlyphs">SO2</text><text x="286.3" y="238.7" class="pt" textLength="22.7" lengthAdjust="spacingAndGlyphs">(ppb)</text></g>
<path d="M348 326.5h6M633 326.5h-6M348 309.5h6M633 309.5h-6M348 292.5h6M633 292.5h-6M348 275.5h6M633 275.5h-6M348 258.5h6M633 258.5h-6M348 242.5h6M633 242.5h-6M348 317.5h4M633 317.5h-4M348 300.5h4M633 300.5h-4M348 284.5h4M633 284.5h-4M348 267.5h4M633 267.5h-4M348 250.5h4M633 250.5h-4M348.5 326v-6M348.5 242v6M371.5 326v-4M371.5 242v4M395.5 326v-6M395.5 242v6M419.5 326v-4M419.5 242v4M443.5 326v-6M443.5 242v6M466.5 326v-4M466.5 242v4M490.5 326v-6M490.5 242v6M514.5 326v-4M514.5 242v4M538.5 326v-6M538.5 242v6M561.5 326v-4M561.5 242v4M585.5 326v-6M585.5 242v6M609.5 326v-4M609.5 242v4M633.5 326v-6M633.5 242v6" class="tk"/>
<clipPath id="lO3"><rect x="349" y="243" width="283" height="82"/></clipPath>
<g clip-path="url(#lO3)"><polyline points="348.0,324.5 359.9,324.5 371.8,321.1 383.6,321.1 395.5,322.5 407.4,324.5 419.2,324.5 431.1,323.1 443.0,319.4 454.9,313.1 466.8,306.3 478.6,302.6 490.5,307.3 502.4,304.0 514.2,302.6 526.1,285.5 538.0,292.6 549.9,293.6 561.8,309.4 573.6,313.9 585.5,323.1 597.4,321.5 609.2,302.0 621.1,302.6 633.0,304.0" class="ln" stroke="#00ffff"/><polyline points="348.0,303.7 359.9,319.4 371.8,310.4 383.6,309.4 395.5,313.1 407.4,319.4 419.2,324.5 431.1,321.5 443.0,320.8 454.9,310.7 466.8,312.4 478.6,290.5 490.5,292.6 502.4,280.1 514.2,278.1 526.1,280.1 538.0,294.2 549.9,313.1 561.8,315.7 573.6,323.1 585.5,325.2 597.4,324.5 609.2,324.5 621.1,319.4" class="ln" stroke="#00ff00"/><polyline points="371.8,293.6 383.6,295.9 407.4,304.0 419.2,307.3 431.1,307.3 443.0,317.4 454.9,321.1 466.8,318.1 478.6,319.8 490.5,314.4 502.4,312.4 514.2,308.0 526.1,275.1 538.0,290.5 549.9,255.9 561.8,261.7 573.6,281.5 585.5,283.2 597.4,290.5 609.2,290.5 621.1,298.9 633.0,297.6" class="ln" stroke="#0000ff"/><polyline points="348.0,297.9 359.9,285.5 371.8,283.5 383.6,281.8 395.5,285.5 407.4,278.5 419.2,276.8 431.1,307.3 443.0,319.1 454.9,314.1 466.8,305.7 478.6,311.0 490.5,313.1 502.4,304.0 514.2,304.0 526.1,304.0 538.0,298.9 549.9,308.0 561.8,293.6 573.6,317.4 585.5,325.2 597.4,317.4 609.2,305.5 621.1,293.6 633.0,295.6" class="ln" stroke="#ff0000"/></g>
<rect x="348" y="242" width="285" height="84" class="fr"/>
<clipPath id="cO3"><rect x="347" y="241" width="287" height="86"/></clipPath>
<g clip-path="url(#cO3)"><path d="M345.5 322.0l5 5m0 -5l-5 5M348.0 321.5v6M345.0 324.5h6M357.4 322.0l5 5m0 -5l-5 5M359.9 321.5v6M356.9 324.5h6M369.2 318.6l5 5m0 -5l-5 5M371.8 318.1v6M368.8 321.1h6M381.1 318.6l5 5m0 -5l-5 5M383.6 318.1v6M380.6 321.1h6M393.0 320.0l5 5m0 -5l-5 5M395.5 319.5v6M392.5 322.5h6M404.9 322.0l5 5m0 -5l-5 5M407.4 321.5v6M404.4 324.5h6M416.8 322.0l5 5m0 -5l-5 5M419.2 321.5v6M416.2 324.5h6M428.6 320.6l5 5m0 -5l-5 5M431.1 320.1v6M428.1 323.1h6M440.5 316.9l5 5m0 -5l-5 5M443.0 316.4v6M440.0 319.4h6M452.4 310.6l5 5m0 -5l-5 5M454.9 310.1v6M451.9 313.1h6M464.2 303.8l5 5m0 -5l-5 5M466.8 303.3v6M463.8 306.3h6M476.1 300.1l5 5m0 -5l-5 5M478.6 299.6v6M475.6 302.6h6M488.0 304.8l5 5m0 -5l-5 5M490.5 304.3v6M487.5 307.3h6M499.9 301.5l5 5m0 -5l-5 5M502.4 301.0v6M499.4 304.0h6M511.8 300.1l5 5m0 -5l-5 5M514.2 299.6v6M511.2 302.6h6M523.6 283.0l5 5m0 -5l-5 5M526.1 282.5v6M523.1 285.5h6M535.5 290.1l5 5m0 -5l-5 5M538.0 289.6v6M535.0 292.6h6M547.4 291.1l5 5m0 -5l-5 5M549.9 290.6v6M546.9 293.6h6M559.2 306.9l5 5m0 -5l-5 5M561.8 306.4v6M558.8 309.4h6M571.1 311.4l5 5m0 -5l-5 5M573.6 310.9v6M570.6 313.9h6M583.0 320.6l5 5m0 -5l-5 5M585.5 320.1v6M582.5 323.1h6M594.9 319.0l5 5m0 -5l-5 5M597.4 318.5v6M594.4 321.5h6M606.8 299.5l5 5m0 -5l-5 5M609.2 299.0v6M606.2 302.0h6M618.6 300.1l5 5m0 -5l-5 5M621.1 299.6v6M618.1 302.6h6M630.5 301.5l5 5m0 -5l-5 5M633.0 301.0v6M630.0 304.0h6" class="mk" stroke="#00ffff"/><path d="M345.5 301.2l5 5m0 -5l-5 5M348.0 300.7v6M345.0 303.7h6M357.4 316.9l5 5m0 -5l-5 5M359.9 316.4v6M356.9 319.4h6M369.2 307.9l5 5m0 -5l-5 5M371.8 307.4v6M368.8 310.4h6M381.1 306.9l5 5m0 -5l-5 5M383.6 306.4v6M380.6 309.4h6M393.0 310.6l5 5m0 -5l-5 5M395.5 310.1v6M392.5 313.1h6M404.9 316.9l5 5m0 -5l-5 5M407.4 316.4v6M404.4 319.4h6M416.8 322.0l5 5m0 -5l-5 5M419.2 321.5v6M416.2 324.5h6M428.6 319.0l5 5m0 -5l-5 5M431.1 318.5v6M428.1 321.5h6M440.5 318.3l5 5m0 -5l-5 5M443.0 317.8v6M440.0 320.8h6M452.4 308.2l5 5m0 -5l-5 5M454.9 307.7v6M451.9 310.7h6M464.2 309.9l5 5m0 -5l-5 5M466.8 309.4v6M463.8 312.4h6M476.1 288.0l5 5m0 -5l-5 5M478.6 287.5v6M475.6 290.5h6M488.0 290.1l5 5m0 -5l-5 5M490.5 289.6v6M487.5 292.6h6M499.9 277.6l5 5m0 -5l-5 5M502.4 277.1v6M499.4 280.1h6M511.8 275.6l5 5m0 -5l-5 5M514.2 275.1v6M511.2 278.1h6M523.6 277.6l5 5m0 -5l-5 5M526.1 277.1v6M523.1 280.1h6M535.5 291.7l5 5m0 -5l-5 5M538.0 291.2v6M535.0 294.2h6M547.4 310.6l5 5m0 -5l-5 5M549.9 310.1v6M546.9 313.1h6M559.2 313.2l5 5m0 -5l-5 5M561.8 312.7v6M558.8 315.7h6M571.1 320.6l5 5m0 -5l-5 5M573.6 320.1v6M570.6 323.1h6M583.0 322.7l5 5m0 -5l-5 5M585.5 322.2v6M582.5 325.2h6M594.9 322.0l5 5m0 -5l-5 5M597.4 321.5v6M594.4 324.5h6M606.8 322.0l5 5m0 -5l-5 5M609.2 321.5v6M606.2 324.5h6M618.6 316.9l5 5m0 -5l-5 5M621.1 316.4v6M618.1 319.4h6" class="mk" stroke="#00ff00"/><path d="M369.2 291.1l5 5m0 -5l-5 5M371.8 290.6v6M368.8 293.6h6M381.1 293.4l5 5m0 -5l-5 5M383.6 292.9v6M380.6 295.9h6M404.9 301.5l5 5m0 -5l-5 5M407.4 301.0v6M404.4 304.0h6M416.8 304.8l5 5m0 -5l-5 5M419.2 304.3v6M416.2 307.3h6M428.6 304.8l5 5m0 -5l-5 5M431.1 304.3v6M428.1 307.3h6M440.5 314.9l5 5m0 -5l-5 5M443.0 314.4v6M440.0 317.4h6M452.4 318.6l5 5m0 -5l-5 5M454.9 318.1v6M451.9 321.1h6M464.2 315.6l5 5m0 -5l-5 5M466.8 315.1v6M463.8 318.1h6M476.1 317.3l5 5m0 -5l-5 5M478.6 316.8v6M475.6 319.8h6M488.0 311.9l5 5m0 -5l-5 5M490.5 311.4v6M487.5 314.4h6M499.9 309.9l5 5m0 -5l-5 5M502.4 309.4v6M499.4 312.4h6M511.8 305.5l5 5m0 -5l-5 5M514.2 305.0v6M511.2 308.0h6M523.6 272.6l5 5m0 -5l-5 5M526.1 272.1v6M523.1 275.1h6M535.5 288.0l5 5m0 -5l-5 5M538.0 287.5v6M535.0 290.5h6M547.4 253.4l5 5m0 -5l-5 5M549.9 252.9v6M546.9 255.9h6M559.2 259.2l5 5m0 -5l-5 5M561.8 258.7v6M558.8 261.7h6M571.1 279.0l5 5m0 -5l-5 5M573.6 278.5v6M570.6 281.5h6M583.0 280.7l5 5m0 -5l-5 5M585.5 280.2v6M582.5 283.2h6M594.9 288.0l5 5m0 -5l-5 5M597.4 287.5v6M594.4 290.5h6M606.8 288.0l5 5m0 -5l-5 5M609.2 287.5v6M606.2 290.5h6M618.6 296.4l5 5m0 -5l-5 5M621.1 295.9v6M618.1 298.9h6M630.5 295.1l5 5m0 -5l-5 5M633.0 294.6v6M630.0 297.6h6" class="mk" stroke="#0000ff"/><path d="M345.5 295.4l5 5m0 -5l-5 5M348.0 294.9v6M345.0 297.9h6M357.4 283.0l5 5m0 -5l-5 5M359.9 282.5v6M356.9 285.5h6M369.2 281.0l5 5m0 -5l-5 5M371.8 280.5v6M368.8 283.5h6M381.1 279.3l5 5m0 -5l-5 5M383.6 278.8v6M380.6 281.8h6M393.0 283.0l5 5m0 -5l-5 5M395.5 282.5v6M392.5 285.5h6M404.9 276.0l5 5m0 -5l-5 5M407.4 275.5v6M404.4 278.5h6M416.8 274.3l5 5m0 -5l-5 5M419.2 273.8v6M416.2 276.8h6M428.6 304.8l5 5m0 -5l-5 5M431.1 304.3v6M428.1 307.3h6M440.5 316.6l5 5m0 -5l-5 5M443.0 316.1v6M440.0 319.1h6M452.4 311.6l5 5m0 -5l-5 5M454.9 311.1v6M451.9 314.1h6M464.2 303.2l5 5m0 -5l-5 5M466.8 302.7v6M463.8 305.7h6M476.1 308.5l5 5m0 -5l-5 5M478.6 308.0v6M475.6 311.0h6M488.0 310.6l5 5m0 -5l-5 5M490.5 310.1v6M487.5 313.1h6M499.9 301.5l5 5m0 -5l-5 5M502.4 301.0v6M499.4 304.0h6M511.8 301.5l5 5m0 -5l-5 5M514.2 301.0v6M511.2 304.0h6M523.6 301.5l5 5m0 -5l-5 5M526.1 301.0v6M523.1 304.0h6M535.5 296.4l5 5m0 -5l-5 5M538.0 295.9v6M535.0 298.9h6M547.4 305.5l5 5m0 -5l-5 5M549.9 305.0v6M546.9 308.0h6M559.2 291.1l5 5m0 -5l-5 5M561.8 290.6v6M558.8 293.6h6M571.1 314.9l5 5m0 -5l-5 5M573.6 314.4v6M570.6 317.4h6M583.0 322.7l5 5m0 -5l-5 5M585.5 322.2v6M582.5 325.2h6M594.9 314.9l5 5m0 -5l-5 5M597.4 314.4v6M594.4 317.4h6M606.8 303.0l5 5m0 -5l-5 5M609.2 302.5v6M606.2 305.5h6M618.6 291.1l5 5m0 -5l-5 5M621.1 290.6v6M618.1 293.6h6M630.5 293.1l5 5m0 -5l-5 5M633.0 292.6v6M630.0 295.6h6" class="mk" stroke="#ff0000"/></g>
<g><line x1="349" y1="309.5" x2="632" y2="309.5" class="gd"/><line x1="349" y1="292.5" x2="632" y2="292.5" class="gd"/><line x1="349" y1="275.5" x2="632" y2="275.5" class="gd"/><line x1="349" y1="258.5" x2="632" y2="258.5" class="gd"/><line x1="395.5" y1="243" x2="395.5" y2="325" class="gd"/><line x1="443.5" y1="243" x2="443.5" y2="325" class="gd"/><line x1="490.5" y1="243" x2="490.5" y2="325" class="gd"/><line x1="538.5" y1="243" x2="538.5" y2="325" class="gd"/><line x1="585.5" y1="243" x2="585.5" y2="325" class="gd"/><text x="343.4" y="329.3" class="yl" textLength="5.1" lengthAdjust="spacingAndGlyphs">0</text><text x="343.4" y="312.5" class="yl" textLength="5.1" lengthAdjust="spacingAndGlyphs">5</text><text x="343.4" y="295.7" class="yl" textLength="10.2" lengthAdjust="spacingAndGlyphs">10</text><text x="343.4" y="278.9" class="yl" textLength="10.2" lengthAdjust="spacingAndGlyphs">15</text><text x="343.4" y="262.1" class="yl" textLength="10.2" lengthAdjust="spacingAndGlyphs">20</text><text x="343.4" y="245.3" class="yl" textLength="10.2" lengthAdjust="spacingAndGlyphs">25</text><text x="348.2" y="337.2" class="xl" textLength="5.1" lengthAdjust="spacingAndGlyphs">0</text><text x="395.7" y="337.2" class="xl" textLength="5.1" lengthAdjust="spacingAndGlyphs">4</text><text x="443.2" y="337.2" class="xl" textLength="5.1" lengthAdjust="spacingAndGlyphs">8</text><text x="490.7" y="337.2" class="xl" textLength="10.2" lengthAdjust="spacingAndGlyphs">12</text><text x="538.2" y="337.2" class="xl" textLength="10.2" lengthAdjust="spacingAndGlyphs">16</text><text x="585.7" y="337.2" class="xl" textLength="10.2" lengthAdjust="spacingAndGlyphs">20</text><text x="633.2" y="337.2" class="xl" textLength="10.2" lengthAdjust="spacingAndGlyphs">24</text><text x="597.3" y="238.7" class="pt" textLength="10.4" lengthAdjust="spacingAndGlyphs">O3</text><text x="611.3" y="238.7" class="pt" textLength="22.7" lengthAdjust="spacingAndGlyphs">(ppb)</text></g>
</svg></body></html>
